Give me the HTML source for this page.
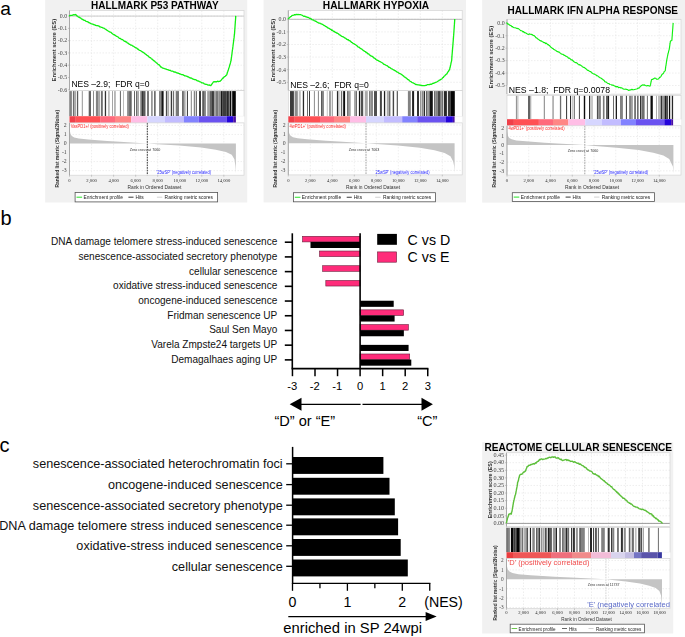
<!DOCTYPE html>
<html><head><meta charset="utf-8"><style>
html,body{margin:0;padding:0;background:#fff;width:685px;height:637px;overflow:hidden}
svg{display:block;font-family:"Liberation Sans", sans-serif}
</style></head><body>
<svg width="685" height="637" viewBox="0 0 685 637">
<defs><filter id="soft" x="0" y="0" width="1" height="1" color-interpolation-filters="sRGB"><feGaussianBlur stdDeviation="0.3"/></filter></defs>
<rect width="685" height="637" fill="#fff"/>
<text x="0.20" y="14.90" font-size="19.2" text-anchor="start" font-weight="normal" fill="#000" >a</text>
<g filter="url(#soft)"><rect x="45.2" y="0" width="202.0" height="202.5" fill="#f1f1f1"/>
<text x="154.80" y="8.80" font-size="10" text-anchor="middle" font-weight="bold" fill="#000" >HALLMARK P53 PATHWAY</text>
<rect x="69.5" y="10.6" width="174.5" height="80.0" fill="#fff"/>
<line x1="91.55" y1="10.6" x2="91.55" y2="90.6" stroke="#e2e2e2" stroke-width="0.6" stroke-dasharray="1.5,1.5"/>
<line x1="113.60" y1="10.6" x2="113.60" y2="90.6" stroke="#e2e2e2" stroke-width="0.6" stroke-dasharray="1.5,1.5"/>
<line x1="135.65" y1="10.6" x2="135.65" y2="90.6" stroke="#e2e2e2" stroke-width="0.6" stroke-dasharray="1.5,1.5"/>
<line x1="157.70" y1="10.6" x2="157.70" y2="90.6" stroke="#e2e2e2" stroke-width="0.6" stroke-dasharray="1.5,1.5"/>
<line x1="179.75" y1="10.6" x2="179.75" y2="90.6" stroke="#e2e2e2" stroke-width="0.6" stroke-dasharray="1.5,1.5"/>
<line x1="201.80" y1="10.6" x2="201.80" y2="90.6" stroke="#e2e2e2" stroke-width="0.6" stroke-dasharray="1.5,1.5"/>
<line x1="223.85" y1="10.6" x2="223.85" y2="90.6" stroke="#e2e2e2" stroke-width="0.6" stroke-dasharray="1.5,1.5"/>
<line x1="69.5" y1="16.10" x2="244" y2="16.10" stroke="#e2e2e2" stroke-width="0.6" stroke-dasharray="1.5,1.5"/>
<text x="67.10" y="17.90" font-size="5.8999999999999995" text-anchor="end" font-weight="normal" fill="#444" font-family="Liberation Serif">0.0</text>
<line x1="68.0" y1="16.10" x2="69.5" y2="16.10" stroke="#999" stroke-width="0.5"/>
<line x1="69.5" y1="28.37" x2="244" y2="28.37" stroke="#e2e2e2" stroke-width="0.6" stroke-dasharray="1.5,1.5"/>
<text x="67.10" y="30.17" font-size="5.8999999999999995" text-anchor="end" font-weight="normal" fill="#444" font-family="Liberation Serif">-0.1</text>
<line x1="68.0" y1="28.37" x2="69.5" y2="28.37" stroke="#999" stroke-width="0.5"/>
<line x1="69.5" y1="40.64" x2="244" y2="40.64" stroke="#e2e2e2" stroke-width="0.6" stroke-dasharray="1.5,1.5"/>
<text x="67.10" y="42.44" font-size="5.8999999999999995" text-anchor="end" font-weight="normal" fill="#444" font-family="Liberation Serif">-0.2</text>
<line x1="68.0" y1="40.64" x2="69.5" y2="40.64" stroke="#999" stroke-width="0.5"/>
<line x1="69.5" y1="52.91" x2="244" y2="52.91" stroke="#e2e2e2" stroke-width="0.6" stroke-dasharray="1.5,1.5"/>
<text x="67.10" y="54.71" font-size="5.8999999999999995" text-anchor="end" font-weight="normal" fill="#444" font-family="Liberation Serif">-0.3</text>
<line x1="68.0" y1="52.91" x2="69.5" y2="52.91" stroke="#999" stroke-width="0.5"/>
<line x1="69.5" y1="65.18" x2="244" y2="65.18" stroke="#e2e2e2" stroke-width="0.6" stroke-dasharray="1.5,1.5"/>
<text x="67.10" y="66.98" font-size="5.8999999999999995" text-anchor="end" font-weight="normal" fill="#444" font-family="Liberation Serif">-0.4</text>
<line x1="68.0" y1="65.18" x2="69.5" y2="65.18" stroke="#999" stroke-width="0.5"/>
<text x="67.10" y="79.25" font-size="5.8999999999999995" text-anchor="end" font-weight="normal" fill="#444" font-family="Liberation Serif">-0.5</text>
<line x1="68.0" y1="77.45" x2="69.5" y2="77.45" stroke="#999" stroke-width="0.5"/>
<line x1="69.5" y1="89.72" x2="244" y2="89.72" stroke="#e2e2e2" stroke-width="0.6" stroke-dasharray="1.5,1.5"/>
<text x="67.10" y="91.52" font-size="5.8999999999999995" text-anchor="end" font-weight="normal" fill="#444" font-family="Liberation Serif">-0.6</text>
<line x1="68.0" y1="89.72" x2="69.5" y2="89.72" stroke="#999" stroke-width="0.5"/>
<line x1="69.5" y1="16.10" x2="244" y2="16.10" stroke="#c4c4c4" stroke-width="0.9"/>
<rect x="69.5" y="10.6" width="174.5" height="80.0" fill="none" stroke="#d4d4d4" stroke-width="0.7"/>
<line x1="69.5" y1="10.6" x2="69.5" y2="90.6" stroke="#999" stroke-width="0.8"/>
<polyline points="68.94,15.72 69.82,15.73 70.69,15.46 71.57,15.42 72.36,15.28 73.15,14.78 73.93,14.59 74.72,14.93 75.51,14.43 76.17,14.94 76.83,15.92 77.48,16.13 78.14,16.87 78.89,17.11 79.64,17.65 80.39,17.81 81.14,18.55 81.89,19.14 82.64,19.38 83.39,19.96 84.14,20.30 84.89,20.31 85.64,21.10 86.40,21.38 87.15,21.58 87.90,21.79 88.65,22.67 89.40,22.73 90.15,23.18 90.90,23.58 91.65,23.78 92.40,24.20 93.15,24.19 93.90,24.73 94.78,24.82 95.65,25.42 96.53,25.70 97.41,25.54 98.28,25.86 99.16,26.22 99.91,26.97 100.66,26.95 101.41,27.37 102.16,27.47 102.91,27.89 103.66,28.12 104.41,28.40 105.16,28.99 105.91,29.44 106.66,30.09 107.42,30.40 108.17,31.00 108.92,31.41 109.67,31.94 110.39,32.23 111.10,32.40 111.82,33.30 112.54,33.84 113.25,34.28 113.97,34.56 114.68,35.12 115.40,35.29 116.12,36.14 116.83,36.47 117.55,36.77 118.24,37.05 118.93,37.94 119.62,38.44 120.32,38.31 121.01,39.15 121.70,39.33 122.39,39.59 123.08,40.09 123.77,40.79 124.47,41.27 125.16,41.19 125.85,41.95 126.54,42.02 127.23,42.84 127.92,43.02 128.62,43.76 129.31,44.24 130.00,44.37 130.69,45.08 131.38,45.08 132.07,45.36 132.76,46.09 133.45,46.16 134.15,46.67 134.84,47.22 135.53,47.75 136.22,47.90 136.91,48.24 137.60,49.15 138.29,49.24 138.98,50.04 139.67,50.42 140.36,50.52 141.06,50.99 141.75,51.44 142.44,51.93 143.13,52.31 143.82,52.71 144.45,53.24 145.07,53.94 145.70,54.18 146.32,54.63 146.95,55.30 147.57,55.52 148.20,56.05 148.83,56.96 149.45,57.19 150.08,57.70 150.70,57.88 151.33,58.62 151.95,59.22 152.58,59.39 153.21,60.25 153.83,60.76 154.46,60.91 155.08,61.75 155.71,62.16 156.33,62.79 156.96,63.09 157.62,63.90 158.27,64.51 158.93,64.67 159.59,65.28 160.24,66.24 160.90,67.01 161.55,67.17 162.21,67.88 163.00,68.23 163.79,68.33 164.58,68.61 165.37,68.85 166.16,69.14 166.94,69.54 167.73,69.62 168.52,69.93 169.31,70.43 170.10,70.25 170.87,70.83 171.64,71.20 172.42,71.20 173.19,71.42 173.96,72.03 174.73,71.95 175.51,72.18 176.28,72.59 177.05,73.02 177.82,72.92 178.60,73.32 179.37,73.59 180.14,74.15 180.91,74.17 181.69,74.69 182.46,74.54 183.23,74.90 184.00,75.40 184.78,75.85 185.55,75.90 186.32,76.07 187.09,76.32 187.87,76.87 188.64,76.98 189.41,77.65 190.19,77.98 190.96,77.90 191.73,78.26 192.51,78.89 193.28,79.10 194.05,79.51 194.82,79.54 195.60,79.72 196.37,80.13 197.16,80.77 197.95,80.80 198.73,81.18 199.52,81.57 200.31,81.91 201.10,82.25 201.89,82.90 202.67,82.78 203.46,83.03 204.25,83.94 205.07,84.13 205.89,84.42 206.71,84.32 207.53,84.86 208.36,85.08 209.18,84.88 210.00,85.43 210.82,85.71 211.35,84.92 211.87,84.15 212.40,83.33 212.92,82.68 213.45,81.93 214.27,81.70 215.09,81.88 215.91,81.57 216.74,81.75 217.56,81.16 218.38,81.54 219.20,81.29 220.02,81.29 220.68,80.62 221.34,79.97 221.99,79.12 222.65,78.13 223.31,78.00 223.96,77.08 224.62,76.59 225.28,76.24 225.93,75.58 226.59,74.95 226.85,74.48 227.11,73.49 227.38,72.54 227.64,71.70 227.90,71.28 228.16,70.26 228.42,69.65 228.69,68.61 228.95,67.73 229.21,67.14 229.44,66.49 229.67,65.28 229.90,64.83 230.13,64.09 230.36,63.20 230.59,62.39 230.82,61.08 231.05,60.63 231.16,59.94 231.27,58.62 231.38,57.92 231.49,57.09 231.61,56.42 231.72,55.52 231.83,54.72 231.94,54.08 232.05,52.78 232.16,51.98 232.27,51.20 232.38,50.36 232.49,49.50 232.60,49.21 232.72,48.31 232.83,47.02 232.94,46.44 233.05,45.50 233.16,44.67 233.26,43.88 233.36,43.25 233.46,42.41 233.56,41.46 233.66,40.55 233.76,39.83 233.87,38.90 233.97,38.35 234.07,37.63 234.17,36.62 234.27,35.63 234.37,34.89 234.47,34.19 234.53,33.53 234.58,32.84 234.64,31.80 234.70,31.25 234.75,30.35 234.81,29.43 234.87,28.60 234.93,27.87 234.98,27.20 235.04,26.23 235.10,25.59 235.15,24.65 235.21,23.72 235.27,23.10 235.32,22.39 235.38,21.22 235.44,20.63 235.50,19.83 235.55,19.31 235.61,18.54 235.67,17.40 235.72,16.92 235.78,15.88" fill="none" stroke="#10f010" stroke-width="1.3" stroke-linejoin="round" />
<rect x="70.1" y="79.10" width="80.60" height="11.10" fill="#fff"/>
<text x="71.40" y="87.30" font-size="9.9" text-anchor="start" font-weight="normal" fill="#000" textLength="78.2" lengthAdjust="spacingAndGlyphs">NES –2.9;&#160; FDR q=0</text>
<text x="0.00" y="0.00" font-size="6.0" text-anchor="middle" font-weight="bold" fill="#333" transform="translate(56.0,50.2) rotate(-90) scale(0.975,1)">Enrichment score (ES)</text>
<rect x="69.5" y="90.6" width="174.5" height="25.60000000000001" fill="#fff" stroke="#c8c8c8" stroke-width="0.5"/>
<rect x="69.30" y="91.1" width="2.60" height="25.10" fill="rgb(130,130,130)"/>
<rect x="72.90" y="91.1" width="1.30" height="25.10" fill="rgb(110,110,110)"/>
<rect x="74.20" y="91.1" width="1.70" height="25.10" fill="rgb(160,160,160)"/>
<rect x="76.90" y="91.1" width="1.30" height="25.10" fill="rgb(90,90,90)"/>
<rect x="81.80" y="91.1" width="1.00" height="25.10" fill="rgb(150,150,150)"/>
<rect x="88.70" y="91.1" width="2.30" height="25.10" fill="rgb(100,100,100)"/>
<rect x="93.00" y="91.1" width="1.00" height="25.10" fill="rgb(140,140,140)"/>
<rect x="95.90" y="91.1" width="2.30" height="25.10" fill="rgb(130,130,130)"/>
<rect x="98.20" y="91.1" width="1.70" height="25.10" fill="rgb(160,160,160)"/>
<rect x="100.90" y="91.1" width="1.90" height="25.10" fill="rgb(110,110,110)"/>
<rect x="104.80" y="91.1" width="1.30" height="25.10" fill="rgb(50,50,50)"/>
<rect x="108.10" y="91.1" width="1.60" height="25.10" fill="rgb(180,180,180)"/>
<rect x="112.00" y="91.1" width="1.00" height="25.10" fill="rgb(165,165,165)"/>
<rect x="114.30" y="91.1" width="1.30" height="25.10" fill="rgb(150,150,150)"/>
<rect x="119.90" y="91.1" width="1.00" height="25.10" fill="rgb(100,100,100)"/>
<rect x="123.20" y="91.1" width="0.70" height="25.10" fill="rgb(160,160,160)"/>
<rect x="127.10" y="91.1" width="2.00" height="25.10" fill="rgb(140,140,140)"/>
<rect x="129.10" y="91.1" width="2.60" height="25.10" fill="rgb(100,100,100)"/>
<rect x="134.00" y="91.1" width="1.00" height="25.10" fill="rgb(100,100,100)"/>
<rect x="136.00" y="91.1" width="1.30" height="25.10" fill="rgb(110,110,110)"/>
<rect x="137.30" y="91.1" width="1.60" height="25.10" fill="rgb(160,160,160)"/>
<rect x="140.30" y="91.1" width="1.60" height="25.10" fill="rgb(120,120,120)"/>
<rect x="141.90" y="91.1" width="1.00" height="25.10" fill="rgb(30,30,30)"/>
<rect x="142.90" y="91.1" width="2.60" height="25.10" fill="rgb(90,90,90)"/>
<rect x="147.20" y="91.1" width="1.60" height="25.10" fill="rgb(90,90,90)"/>
<rect x="151.10" y="91.1" width="1.60" height="25.10" fill="rgb(140,140,140)"/>
<rect x="154.00" y="91.1" width="1.70" height="25.10" fill="rgb(110,110,110)"/>
<rect x="159.00" y="91.1" width="1.60" height="25.10" fill="rgb(130,130,130)"/>
<rect x="160.60" y="91.1" width="1.30" height="25.10" fill="rgb(80,80,80)"/>
<rect x="161.90" y="91.1" width="1.70" height="25.10" fill="rgb(20,20,20)"/>
<rect x="165.90" y="91.1" width="0.90" height="25.10" fill="rgb(30,30,30)"/>
<rect x="167.20" y="91.1" width="1.90" height="25.10" fill="rgb(170,170,170)"/>
<rect x="170.80" y="91.1" width="1.00" height="25.10" fill="rgb(10,10,10)"/>
<rect x="172.80" y="91.1" width="1.30" height="25.10" fill="rgb(110,110,110)"/>
<rect x="175.70" y="91.1" width="3.30" height="25.10" fill="rgb(120,120,120)"/>
<rect x="182.00" y="91.1" width="1.90" height="25.10" fill="rgb(110,110,110)"/>
<rect x="183.90" y="91.1" width="1.70" height="25.10" fill="rgb(170,170,170)"/>
<rect x="186.90" y="91.1" width="1.00" height="25.10" fill="rgb(50,50,50)"/>
<rect x="190.80" y="91.1" width="1.00" height="25.10" fill="rgb(130,130,130)"/>
<rect x="193.80" y="91.1" width="1.00" height="25.10" fill="rgb(100,100,100)"/>
<rect x="195.80" y="91.1" width="0.90" height="25.10" fill="rgb(50,50,50)"/>
<rect x="199.00" y="91.1" width="2.00" height="25.10" fill="rgb(60,60,60)"/>
<rect x="202.30" y="91.1" width="1.60" height="25.10" fill="rgb(70,70,70)"/>
<rect x="203.90" y="91.1" width="2.00" height="25.10" fill="rgb(130,130,130)"/>
<rect x="207.20" y="91.1" width="2.70" height="25.10" fill="rgb(160,160,160)"/>
<rect x="209.90" y="91.1" width="2.30" height="25.10" fill="rgb(100,100,100)"/>
<rect x="212.20" y="91.1" width="1.60" height="25.10" fill="rgb(20,20,20)"/>
<rect x="214.10" y="91.1" width="1.70" height="25.10" fill="rgb(150,150,150)"/>
<rect x="215.80" y="91.1" width="2.70" height="25.10" fill="rgb(120,120,120)"/>
<rect x="218.50" y="91.1" width="2.50" height="25.10" fill="rgb(140,140,140)"/>
<rect x="221.00" y="91.1" width="1.70" height="25.10" fill="rgb(25,25,25)"/>
<rect x="222.70" y="91.1" width="3.60" height="25.10" fill="rgb(60,60,60)"/>
<rect x="226.30" y="91.1" width="2.60" height="25.10" fill="rgb(40,40,40)"/>
<rect x="228.90" y="91.1" width="1.00" height="25.10" fill="rgb(120,120,120)"/>
<rect x="229.90" y="91.1" width="1.30" height="25.10" fill="rgb(10,10,10)"/>
<rect x="231.20" y="91.1" width="1.00" height="25.10" fill="rgb(160,160,160)"/>
<rect x="232.20" y="91.1" width="3.60" height="25.10" fill="rgb(5,5,5)"/>
<rect x="69.5" y="116.2" width="174.5" height="6.700000000000003" fill="#fff"/>
<rect x="69.50" y="116.2" width="6.30" height="6.700000000000003" fill="#f0404a"/>
<rect x="75.80" y="116.2" width="24.30" height="6.700000000000003" fill="#ff5054"/>
<rect x="100.10" y="116.2" width="14.90" height="6.700000000000003" fill="#ff6a7c"/>
<rect x="115.00" y="116.2" width="16.20" height="6.700000000000003" fill="#ff8686"/>
<rect x="131.20" y="116.2" width="16.20" height="6.700000000000003" fill="#ffbee6"/>
<rect x="147.40" y="116.2" width="17.50" height="6.700000000000003" fill="#d6d6ff"/>
<rect x="164.90" y="116.2" width="18.90" height="6.700000000000003" fill="#c2bcff"/>
<rect x="183.80" y="116.2" width="14.90" height="6.700000000000003" fill="#8282ff"/>
<rect x="198.70" y="116.2" width="27.90" height="6.700000000000003" fill="#6a52f0"/>
<rect x="226.60" y="116.2" width="6.60" height="6.700000000000003" fill="#2404da"/>
<rect x="233.20" y="116.2" width="2.70" height="6.700000000000003" fill="#4a10a4"/>
<rect x="69.5" y="122.9" width="174.5" height="52.29999999999998" fill="#fff"/>
<line x1="91.55" y1="122.9" x2="91.55" y2="175.2" stroke="#e2e2e2" stroke-width="0.6" stroke-dasharray="1.5,1.5"/>
<line x1="113.60" y1="122.9" x2="113.60" y2="175.2" stroke="#e2e2e2" stroke-width="0.6" stroke-dasharray="1.5,1.5"/>
<line x1="135.65" y1="122.9" x2="135.65" y2="175.2" stroke="#e2e2e2" stroke-width="0.6" stroke-dasharray="1.5,1.5"/>
<line x1="157.70" y1="122.9" x2="157.70" y2="175.2" stroke="#e2e2e2" stroke-width="0.6" stroke-dasharray="1.5,1.5"/>
<line x1="179.75" y1="122.9" x2="179.75" y2="175.2" stroke="#e2e2e2" stroke-width="0.6" stroke-dasharray="1.5,1.5"/>
<line x1="201.80" y1="122.9" x2="201.80" y2="175.2" stroke="#e2e2e2" stroke-width="0.6" stroke-dasharray="1.5,1.5"/>
<line x1="223.85" y1="122.9" x2="223.85" y2="175.2" stroke="#e2e2e2" stroke-width="0.6" stroke-dasharray="1.5,1.5"/>
<line x1="69.5" y1="125.40" x2="244" y2="125.40" stroke="#e2e2e2" stroke-width="0.6" stroke-dasharray="1.5,1.5"/>
<text x="66.70" y="127.20" font-size="5.75" text-anchor="end" font-weight="normal" fill="#444" font-family="Liberation Serif">2</text>
<line x1="69.5" y1="134.45" x2="244" y2="134.45" stroke="#e2e2e2" stroke-width="0.6" stroke-dasharray="1.5,1.5"/>
<text x="66.70" y="136.25" font-size="5.75" text-anchor="end" font-weight="normal" fill="#444" font-family="Liberation Serif">1</text>
<text x="66.70" y="145.30" font-size="5.75" text-anchor="end" font-weight="normal" fill="#444" font-family="Liberation Serif">0</text>
<text x="66.70" y="154.35" font-size="5.75" text-anchor="end" font-weight="normal" fill="#444" font-family="Liberation Serif">-1</text>
<line x1="69.5" y1="161.60" x2="244" y2="161.60" stroke="#e2e2e2" stroke-width="0.6" stroke-dasharray="1.5,1.5"/>
<text x="66.70" y="163.40" font-size="5.75" text-anchor="end" font-weight="normal" fill="#444" font-family="Liberation Serif">-2</text>
<line x1="69.5" y1="170.65" x2="244" y2="170.65" stroke="#e2e2e2" stroke-width="0.6" stroke-dasharray="1.5,1.5"/>
<text x="66.70" y="172.45" font-size="5.75" text-anchor="end" font-weight="normal" fill="#444" font-family="Liberation Serif">-3</text>
<path d="M69.5,143.50 L69.50,129.02 L70.50,134.09 L71.83,135.99 L74.16,137.44 L78.82,138.61 L88.31,139.52 L97.79,140.33 L107.11,140.97 L119.92,141.69 L147.30,143.50 L157.37,144.22 L179.16,145.58 L201.13,147.48 L215.77,149.65 L225.92,151.92 L231.74,154.81 L234.40,159.16 L235.40,166.12 L235.90,173.37 L235.90,143.50 Z" fill="#c4c4c4"/>
<line x1="147.30" y1="122.9" x2="147.30" y2="175.2" stroke="#111" stroke-width="0.85" stroke-dasharray="1.7,0.9"/>
<rect x="69.5" y="122.9" width="174.5" height="52.29999999999998" fill="none" stroke="#d4d4d4" stroke-width="0.7"/>
<line x1="69.5" y1="122.9" x2="69.5" y2="175.2" stroke="#999" stroke-width="0.8"/>
<text transform="translate(70.80,127.50) scale(0.847,1)" font-size="4.837999999999999" text-anchor="start" font-weight="normal" fill="#ff2a2a" >VasPD1+/ (positively correlated)</text>
<text transform="translate(145.00,150.80) scale(0.847,1)" font-size="4.366" text-anchor="middle" font-weight="normal" fill="#333" >Zero cross at 7060</text>
<text transform="translate(156.40,173.90) scale(0.847,1)" font-size="4.72" text-anchor="start" font-weight="normal" fill="#2828ff" >&#39;25wSP&#39; (negatively correlated)</text>
<text x="69.50" y="181.70" font-size="4.644" text-anchor="middle" font-weight="normal" fill="#2a2a2a" font-family="Liberation Serif">0</text>
<line x1="69.50" y1="175.2" x2="69.50" y2="176.7" stroke="#999" stroke-width="0.5"/>
<text x="91.55" y="181.70" font-size="4.644" text-anchor="middle" font-weight="normal" fill="#2a2a2a" font-family="Liberation Serif">2,000</text>
<line x1="91.55" y1="175.2" x2="91.55" y2="176.7" stroke="#999" stroke-width="0.5"/>
<text x="113.60" y="181.70" font-size="4.644" text-anchor="middle" font-weight="normal" fill="#2a2a2a" font-family="Liberation Serif">4,000</text>
<line x1="113.60" y1="175.2" x2="113.60" y2="176.7" stroke="#999" stroke-width="0.5"/>
<text x="135.65" y="181.70" font-size="4.644" text-anchor="middle" font-weight="normal" fill="#2a2a2a" font-family="Liberation Serif">6,000</text>
<line x1="135.65" y1="175.2" x2="135.65" y2="176.7" stroke="#999" stroke-width="0.5"/>
<text x="157.70" y="181.70" font-size="4.644" text-anchor="middle" font-weight="normal" fill="#2a2a2a" font-family="Liberation Serif">8,000</text>
<line x1="157.70" y1="175.2" x2="157.70" y2="176.7" stroke="#999" stroke-width="0.5"/>
<text x="179.75" y="181.70" font-size="4.644" text-anchor="middle" font-weight="normal" fill="#2a2a2a" font-family="Liberation Serif">10,000</text>
<line x1="179.75" y1="175.2" x2="179.75" y2="176.7" stroke="#999" stroke-width="0.5"/>
<text x="201.80" y="181.70" font-size="4.644" text-anchor="middle" font-weight="normal" fill="#2a2a2a" font-family="Liberation Serif">12,000</text>
<line x1="201.80" y1="175.2" x2="201.80" y2="176.7" stroke="#999" stroke-width="0.5"/>
<text x="223.85" y="181.70" font-size="4.644" text-anchor="middle" font-weight="normal" fill="#2a2a2a" font-family="Liberation Serif">14,000</text>
<line x1="223.85" y1="175.2" x2="223.85" y2="176.7" stroke="#999" stroke-width="0.5"/>
<text transform="translate(154.40,188.80) scale(0.847,1)" font-size="5.782" text-anchor="middle" font-weight="normal" fill="#333" >Rank in Ordered Dataset</text>
<text x="0.00" y="0.00" font-size="4.9" text-anchor="middle" font-weight="bold" fill="#333" transform="translate(58.6,148.7) rotate(-90)">Ranked list metric (Signal2Noise)</text>
<rect x="75.1" y="192.5" width="142.5" height="9.400000000000006" fill="#fff" stroke="#555" stroke-width="0.8"/>
<line x1="76.5" y1="197.20" x2="82.1" y2="197.20" stroke="#10e010" stroke-width="0.9"/>
<text transform="translate(83.50,199.20) scale(0.847,1)" font-size="5.782" text-anchor="start" font-weight="normal" fill="#222" >Enrichment profile</text>
<line x1="128.4" y1="197.20" x2="133.5" y2="197.20" stroke="#222" stroke-width="0.9"/>
<text transform="translate(135.40,199.20) scale(0.847,1)" font-size="5.782" text-anchor="start" font-weight="normal" fill="#222" >Hits</text>
<line x1="156.9" y1="197.20" x2="162.3" y2="197.20" stroke="#ccc" stroke-width="0.9"/>
<text transform="translate(164.60,199.20) scale(0.847,1)" font-size="5.782" text-anchor="start" font-weight="normal" fill="#222" >Ranking metric scores</text></g>
<g filter="url(#soft)"><rect x="263.6" y="0" width="202.39999999999998" height="202.4" fill="#f1f1f1"/>
<text x="376.00" y="8.80" font-size="10.2" text-anchor="middle" font-weight="bold" fill="#000" >HALLMARK HYPOXIA</text>
<rect x="288.3" y="10.4" width="173.89999999999998" height="80.0" fill="#fff"/>
<line x1="310.30" y1="10.4" x2="310.30" y2="90.4" stroke="#e2e2e2" stroke-width="0.6" stroke-dasharray="1.5,1.5"/>
<line x1="332.30" y1="10.4" x2="332.30" y2="90.4" stroke="#e2e2e2" stroke-width="0.6" stroke-dasharray="1.5,1.5"/>
<line x1="354.30" y1="10.4" x2="354.30" y2="90.4" stroke="#e2e2e2" stroke-width="0.6" stroke-dasharray="1.5,1.5"/>
<line x1="376.30" y1="10.4" x2="376.30" y2="90.4" stroke="#e2e2e2" stroke-width="0.6" stroke-dasharray="1.5,1.5"/>
<line x1="398.30" y1="10.4" x2="398.30" y2="90.4" stroke="#e2e2e2" stroke-width="0.6" stroke-dasharray="1.5,1.5"/>
<line x1="420.30" y1="10.4" x2="420.30" y2="90.4" stroke="#e2e2e2" stroke-width="0.6" stroke-dasharray="1.5,1.5"/>
<line x1="442.30" y1="10.4" x2="442.30" y2="90.4" stroke="#e2e2e2" stroke-width="0.6" stroke-dasharray="1.5,1.5"/>
<line x1="288.3" y1="19.30" x2="462.2" y2="19.30" stroke="#e2e2e2" stroke-width="0.6" stroke-dasharray="1.5,1.5"/>
<text x="285.90" y="21.10" font-size="5.8999999999999995" text-anchor="end" font-weight="normal" fill="#444" font-family="Liberation Serif">0.0</text>
<line x1="286.8" y1="19.30" x2="288.3" y2="19.30" stroke="#999" stroke-width="0.5"/>
<line x1="288.3" y1="31.90" x2="462.2" y2="31.90" stroke="#e2e2e2" stroke-width="0.6" stroke-dasharray="1.5,1.5"/>
<text x="285.90" y="33.70" font-size="5.8999999999999995" text-anchor="end" font-weight="normal" fill="#444" font-family="Liberation Serif">-0.1</text>
<line x1="286.8" y1="31.90" x2="288.3" y2="31.90" stroke="#999" stroke-width="0.5"/>
<line x1="288.3" y1="44.50" x2="462.2" y2="44.50" stroke="#e2e2e2" stroke-width="0.6" stroke-dasharray="1.5,1.5"/>
<text x="285.90" y="46.30" font-size="5.8999999999999995" text-anchor="end" font-weight="normal" fill="#444" font-family="Liberation Serif">-0.2</text>
<line x1="286.8" y1="44.50" x2="288.3" y2="44.50" stroke="#999" stroke-width="0.5"/>
<line x1="288.3" y1="57.10" x2="462.2" y2="57.10" stroke="#e2e2e2" stroke-width="0.6" stroke-dasharray="1.5,1.5"/>
<text x="285.90" y="58.90" font-size="5.8999999999999995" text-anchor="end" font-weight="normal" fill="#444" font-family="Liberation Serif">-0.3</text>
<line x1="286.8" y1="57.10" x2="288.3" y2="57.10" stroke="#999" stroke-width="0.5"/>
<line x1="288.3" y1="69.70" x2="462.2" y2="69.70" stroke="#e2e2e2" stroke-width="0.6" stroke-dasharray="1.5,1.5"/>
<text x="285.90" y="71.50" font-size="5.8999999999999995" text-anchor="end" font-weight="normal" fill="#444" font-family="Liberation Serif">-0.4</text>
<line x1="286.8" y1="69.70" x2="288.3" y2="69.70" stroke="#999" stroke-width="0.5"/>
<line x1="288.3" y1="82.30" x2="462.2" y2="82.30" stroke="#e2e2e2" stroke-width="0.6" stroke-dasharray="1.5,1.5"/>
<text x="285.90" y="84.10" font-size="5.8999999999999995" text-anchor="end" font-weight="normal" fill="#444" font-family="Liberation Serif">-0.5</text>
<line x1="286.8" y1="82.30" x2="288.3" y2="82.30" stroke="#999" stroke-width="0.5"/>
<line x1="288.3" y1="19.30" x2="462.2" y2="19.30" stroke="#b0b0b0" stroke-width="0.9"/>
<rect x="288.3" y="10.4" width="173.89999999999998" height="80.0" fill="none" stroke="#d4d4d4" stroke-width="0.7"/>
<line x1="288.3" y1="10.4" x2="288.3" y2="90.4" stroke="#999" stroke-width="0.8"/>
<polyline points="287.94,19.11 288.60,18.53 289.25,17.90 289.91,17.33 290.57,16.55 291.36,16.30 292.15,15.39 292.93,15.29 293.72,15.20 294.51,14.66 295.38,14.81 296.26,14.34 297.13,14.55 298.01,14.42 298.88,14.60 299.76,14.61 300.64,14.58 301.51,15.01 302.39,15.36 303.27,16.05 304.14,16.26 305.02,16.21 305.77,16.89 306.52,16.79 307.27,17.38 308.02,17.39 308.77,17.61 309.52,18.43 310.27,18.34 311.02,18.72 311.77,19.55 312.52,19.86 313.28,19.89 314.03,20.67 314.78,20.79 315.53,21.25 316.25,21.32 316.96,22.12 317.68,22.33 318.40,22.85 319.11,23.17 319.83,23.17 320.54,23.56 321.26,23.81 321.98,24.15 322.69,24.46 323.41,24.96 324.10,25.56 324.79,25.61 325.48,26.43 326.18,26.64 326.87,27.04 327.56,27.76 328.25,27.97 328.94,28.29 329.63,28.80 330.33,29.35 331.02,29.38 331.71,30.34 332.40,30.19 333.09,31.04 333.78,31.51 334.48,31.43 335.17,32.30 335.86,32.46 336.55,33.01 337.24,33.08 337.93,33.52 338.62,34.01 339.32,34.89 340.01,34.85 340.70,35.60 341.39,36.12 342.08,36.54 342.77,36.60 343.47,37.02 344.16,37.54 344.85,38.10 345.54,38.12 346.23,38.92 346.92,39.36 347.62,39.81 348.31,39.73 349.00,40.69 349.69,40.59 350.35,41.20 351.00,41.83 351.66,42.47 352.32,42.58 352.97,43.39 353.63,43.63 354.29,43.95 354.94,44.41 355.60,44.79 356.25,45.19 356.91,45.69 357.57,46.47 358.22,47.12 358.88,47.08 359.54,47.47 360.19,48.49 360.85,48.68 361.51,49.06 362.16,49.42 362.82,50.10 363.48,50.70 364.13,50.93 364.79,51.37 365.45,51.61 366.11,52.59 366.76,52.52 367.42,53.25 368.08,53.92 368.73,53.95 369.39,54.77 370.05,55.36 370.70,55.63 371.36,56.19 372.02,56.24 372.67,56.89 373.33,57.18 373.99,58.06 374.65,58.19 375.30,58.74 375.96,59.53 376.65,59.86 377.34,60.35 378.03,60.45 378.73,60.88 379.42,61.44 380.11,61.71 380.80,62.01 381.49,62.49 382.18,62.76 382.88,63.31 383.57,64.09 384.26,64.49 384.95,64.70 385.64,65.04 386.33,65.36 387.03,65.63 387.72,66.15 388.41,66.87 389.10,67.34 389.79,67.45 390.48,68.12 391.17,68.53 391.86,68.90 392.56,69.29 393.25,69.76 393.94,69.94 394.63,70.56 395.32,70.72 396.01,71.26 396.70,71.84 397.39,72.21 398.08,72.39 398.77,73.19 399.47,73.43 400.16,73.80 400.85,73.88 401.54,74.61 402.23,74.85 402.89,75.61 403.55,75.98 404.20,76.70 404.86,77.10 405.52,77.70 406.18,77.93 406.83,78.61 407.49,79.17 408.15,79.73 408.81,79.94 409.46,80.74 410.12,81.26 410.87,81.60 411.62,82.23 412.37,82.67 413.12,82.86 413.87,83.31 414.62,83.55 415.37,84.40 416.16,84.62 416.95,84.50 417.73,84.79 418.52,84.96 419.31,85.12 420.10,84.95 420.89,85.47 421.67,85.50 422.46,85.71 423.25,85.72 424.04,85.69 424.83,85.62 425.62,85.38 426.41,85.27 427.19,84.70 427.98,84.62 428.77,84.64 429.56,84.60 430.35,84.19 431.14,84.31 432.01,83.97 432.89,83.31 433.76,83.26 434.64,82.81 435.51,82.40 436.39,82.14 437.14,81.76 437.89,81.19 438.64,80.71 439.40,80.13 440.15,79.90 440.90,79.36 441.65,79.01 442.23,78.41 442.82,77.62 443.40,77.43 443.98,76.31 444.57,75.97 445.15,75.31 445.73,74.80 446.32,74.04 446.90,73.89 447.43,72.82 447.95,71.83 448.48,71.39 449.00,70.29 449.53,69.77 449.72,68.81 449.91,68.12 450.10,67.51 450.29,66.59 450.48,65.51 450.68,64.92 450.87,63.98 451.06,62.98 451.25,62.01 451.44,61.44 451.63,60.59 451.70,60.00 451.76,59.19 451.83,58.15 451.89,57.18 451.96,56.68 452.02,55.32 452.09,54.57 452.15,54.02 452.22,53.23 452.29,52.12 452.35,51.59 452.42,50.93 452.48,49.80 452.55,49.01 452.61,48.07 452.68,47.28 452.75,46.87 452.81,45.70 452.88,45.22 452.94,44.37 453.01,43.36 453.07,42.34 453.14,41.95 453.21,40.84 453.27,39.97 453.34,39.09 453.40,38.67 453.47,37.55 453.53,36.61 453.60,35.90 453.66,34.86 453.73,34.34 453.79,33.43 453.84,32.54 453.90,32.03 453.95,31.26 454.01,29.97 454.06,29.48 454.12,28.52 454.17,28.12 454.23,27.22 454.28,26.10 454.34,25.31 454.39,24.44 454.45,24.14 454.50,22.92 454.56,22.31 454.61,21.43 454.67,20.73 454.72,19.90 454.78,19.04" fill="none" stroke="#10f010" stroke-width="1.3" stroke-linejoin="round" />
<rect x="288.90000000000003" y="79.30" width="81.00" height="10.70" fill="#fff"/>
<text x="290.20" y="87.50" font-size="9.9" text-anchor="start" font-weight="normal" fill="#000" textLength="78.6" lengthAdjust="spacingAndGlyphs">NES –2.6;&#160; FDR q=0</text>
<text x="0.00" y="0.00" font-size="6.0" text-anchor="middle" font-weight="bold" fill="#333" transform="translate(274.8,50.2) rotate(-90) scale(0.975,1)">Enrichment score (ES)</text>
<rect x="288.3" y="90.6" width="173.89999999999998" height="25.700000000000003" fill="#fff" stroke="#c8c8c8" stroke-width="0.5"/>
<rect x="290.00" y="91.1" width="3.90" height="25.20" fill="rgb(60,60,60)"/>
<rect x="294.60" y="91.1" width="3.20" height="25.20" fill="rgb(140,140,140)"/>
<rect x="298.80" y="91.1" width="2.00" height="25.20" fill="rgb(190,190,190)"/>
<rect x="302.80" y="91.1" width="1.30" height="25.20" fill="rgb(40,40,40)"/>
<rect x="307.00" y="91.1" width="1.00" height="25.20" fill="rgb(110,110,110)"/>
<rect x="309.00" y="91.1" width="1.00" height="25.20" fill="rgb(60,60,60)"/>
<rect x="313.90" y="91.1" width="1.00" height="25.20" fill="rgb(140,140,140)"/>
<rect x="317.90" y="91.1" width="1.00" height="25.20" fill="rgb(130,130,130)"/>
<rect x="321.20" y="91.1" width="1.30" height="25.20" fill="rgb(50,50,50)"/>
<rect x="322.50" y="91.1" width="1.30" height="25.20" fill="rgb(110,110,110)"/>
<rect x="326.80" y="91.1" width="0.90" height="25.20" fill="rgb(190,190,190)"/>
<rect x="329.00" y="91.1" width="2.00" height="25.20" fill="rgb(160,160,160)"/>
<rect x="331.70" y="91.1" width="1.30" height="25.20" fill="rgb(170,170,170)"/>
<rect x="336.90" y="91.1" width="1.30" height="25.20" fill="rgb(40,40,40)"/>
<rect x="338.20" y="91.1" width="1.30" height="25.20" fill="rgb(180,180,180)"/>
<rect x="340.90" y="91.1" width="1.30" height="25.20" fill="rgb(110,110,110)"/>
<rect x="343.20" y="91.1" width="1.90" height="25.20" fill="rgb(10,10,10)"/>
<rect x="347.10" y="91.1" width="1.60" height="25.20" fill="rgb(100,100,100)"/>
<rect x="348.70" y="91.1" width="2.00" height="25.20" fill="rgb(160,160,160)"/>
<rect x="354.00" y="91.1" width="1.60" height="25.20" fill="rgb(170,170,170)"/>
<rect x="355.60" y="91.1" width="1.40" height="25.20" fill="rgb(110,110,110)"/>
<rect x="358.90" y="91.1" width="1.30" height="25.20" fill="rgb(20,20,20)"/>
<rect x="360.90" y="91.1" width="2.30" height="25.20" fill="rgb(80,80,80)"/>
<rect x="364.80" y="91.1" width="3.00" height="25.20" fill="rgb(170,170,170)"/>
<rect x="369.10" y="91.1" width="1.30" height="25.20" fill="rgb(110,110,110)"/>
<rect x="370.40" y="91.1" width="2.60" height="25.20" fill="rgb(140,140,140)"/>
<rect x="374.00" y="91.1" width="3.00" height="25.20" fill="rgb(80,80,80)"/>
<rect x="379.90" y="91.1" width="2.00" height="25.20" fill="rgb(70,70,70)"/>
<rect x="383.90" y="91.1" width="1.30" height="25.20" fill="rgb(30,30,30)"/>
<rect x="386.80" y="91.1" width="1.30" height="25.20" fill="rgb(170,170,170)"/>
<rect x="388.50" y="91.1" width="1.90" height="25.20" fill="rgb(110,110,110)"/>
<rect x="392.70" y="91.1" width="1.40" height="25.20" fill="rgb(70,70,70)"/>
<rect x="396.70" y="91.1" width="1.30" height="25.20" fill="rgb(100,100,100)"/>
<rect x="407.90" y="91.1" width="2.90" height="25.20" fill="rgb(130,130,130)"/>
<rect x="412.10" y="91.1" width="2.00" height="25.20" fill="rgb(30,30,30)"/>
<rect x="417.00" y="91.1" width="2.00" height="25.20" fill="rgb(50,50,50)"/>
<rect x="420.00" y="91.1" width="1.00" height="25.20" fill="rgb(150,150,150)"/>
<rect x="421.60" y="91.1" width="1.30" height="25.20" fill="rgb(120,120,120)"/>
<rect x="422.90" y="91.1" width="1.00" height="25.20" fill="rgb(170,170,170)"/>
<rect x="423.90" y="91.1" width="1.00" height="25.20" fill="rgb(20,20,20)"/>
<rect x="425.90" y="91.1" width="1.30" height="25.20" fill="rgb(100,100,100)"/>
<rect x="427.20" y="91.1" width="1.30" height="25.20" fill="rgb(140,140,140)"/>
<rect x="428.50" y="91.1" width="1.30" height="25.20" fill="rgb(110,110,110)"/>
<rect x="429.80" y="91.1" width="3.00" height="25.20" fill="rgb(20,20,20)"/>
<rect x="434.10" y="91.1" width="1.30" height="25.20" fill="rgb(90,90,90)"/>
<rect x="435.40" y="91.1" width="2.30" height="25.20" fill="rgb(130,130,130)"/>
<rect x="437.70" y="91.1" width="2.30" height="25.20" fill="rgb(70,70,70)"/>
<rect x="440.00" y="91.1" width="1.70" height="25.20" fill="rgb(130,130,130)"/>
<rect x="441.70" y="91.1" width="1.60" height="25.20" fill="rgb(110,110,110)"/>
<rect x="444.00" y="91.1" width="2.90" height="25.20" fill="rgb(40,40,40)"/>
<rect x="447.90" y="91.1" width="3.00" height="25.20" fill="rgb(60,60,60)"/>
<rect x="450.90" y="91.1" width="3.90" height="25.20" fill="rgb(5,5,5)"/>
<rect x="288.3" y="116.3" width="173.89999999999998" height="6.6000000000000085" fill="#fff"/>
<rect x="288.30" y="116.3" width="6.50" height="6.6000000000000085" fill="#f0404a"/>
<rect x="294.80" y="116.3" width="25.20" height="6.6000000000000085" fill="#ff5054"/>
<rect x="320.00" y="116.3" width="14.00" height="6.6000000000000085" fill="#ff6a7c"/>
<rect x="334.00" y="116.3" width="16.00" height="6.6000000000000085" fill="#ff8686"/>
<rect x="350.00" y="116.3" width="16.00" height="6.6000000000000085" fill="#ffbee6"/>
<rect x="366.00" y="116.3" width="17.90" height="6.6000000000000085" fill="#d6d6ff"/>
<rect x="383.90" y="116.3" width="18.30" height="6.6000000000000085" fill="#c2bcff"/>
<rect x="402.20" y="116.3" width="15.00" height="6.6000000000000085" fill="#8282ff"/>
<rect x="417.20" y="116.3" width="28.80" height="6.6000000000000085" fill="#6a52f0"/>
<rect x="446.00" y="116.3" width="6.90" height="6.6000000000000085" fill="#2404da"/>
<rect x="452.90" y="116.3" width="1.70" height="6.6000000000000085" fill="#4a10a4"/>
<rect x="288.3" y="122.9" width="173.89999999999998" height="52.0" fill="#fff"/>
<line x1="310.30" y1="122.9" x2="310.30" y2="174.9" stroke="#e2e2e2" stroke-width="0.6" stroke-dasharray="1.5,1.5"/>
<line x1="332.30" y1="122.9" x2="332.30" y2="174.9" stroke="#e2e2e2" stroke-width="0.6" stroke-dasharray="1.5,1.5"/>
<line x1="354.30" y1="122.9" x2="354.30" y2="174.9" stroke="#e2e2e2" stroke-width="0.6" stroke-dasharray="1.5,1.5"/>
<line x1="376.30" y1="122.9" x2="376.30" y2="174.9" stroke="#e2e2e2" stroke-width="0.6" stroke-dasharray="1.5,1.5"/>
<line x1="398.30" y1="122.9" x2="398.30" y2="174.9" stroke="#e2e2e2" stroke-width="0.6" stroke-dasharray="1.5,1.5"/>
<line x1="420.30" y1="122.9" x2="420.30" y2="174.9" stroke="#e2e2e2" stroke-width="0.6" stroke-dasharray="1.5,1.5"/>
<line x1="442.30" y1="122.9" x2="442.30" y2="174.9" stroke="#e2e2e2" stroke-width="0.6" stroke-dasharray="1.5,1.5"/>
<line x1="288.3" y1="125.08" x2="462.2" y2="125.08" stroke="#e2e2e2" stroke-width="0.6" stroke-dasharray="1.5,1.5"/>
<text x="285.50" y="126.88" font-size="5.75" text-anchor="end" font-weight="normal" fill="#444" font-family="Liberation Serif">2</text>
<line x1="288.3" y1="134.14" x2="462.2" y2="134.14" stroke="#e2e2e2" stroke-width="0.6" stroke-dasharray="1.5,1.5"/>
<text x="285.50" y="135.94" font-size="5.75" text-anchor="end" font-weight="normal" fill="#444" font-family="Liberation Serif">1</text>
<text x="285.50" y="145.00" font-size="5.75" text-anchor="end" font-weight="normal" fill="#444" font-family="Liberation Serif">0</text>
<text x="285.50" y="154.06" font-size="5.75" text-anchor="end" font-weight="normal" fill="#444" font-family="Liberation Serif">-1</text>
<line x1="288.3" y1="161.32" x2="462.2" y2="161.32" stroke="#e2e2e2" stroke-width="0.6" stroke-dasharray="1.5,1.5"/>
<text x="285.50" y="163.12" font-size="5.75" text-anchor="end" font-weight="normal" fill="#444" font-family="Liberation Serif">-2</text>
<line x1="288.3" y1="170.38" x2="462.2" y2="170.38" stroke="#e2e2e2" stroke-width="0.6" stroke-dasharray="1.5,1.5"/>
<text x="285.50" y="172.18" font-size="5.75" text-anchor="end" font-weight="normal" fill="#444" font-family="Liberation Serif">-3</text>
<path d="M288.3,143.20 L288.30,128.70 L289.30,133.78 L290.63,135.68 L292.95,137.13 L297.61,138.31 L307.08,139.21 L316.55,140.03 L325.86,140.66 L338.66,141.39 L366.00,143.20 L376.07,144.03 L397.86,145.60 L419.83,147.78 L434.47,150.28 L444.62,152.89 L450.44,156.22 L453.10,161.22 L454.10,165.85 L454.60,173.10 L454.60,143.20 Z" fill="#c4c4c4"/>
<line x1="366.00" y1="122.9" x2="366.00" y2="174.9" stroke="#666" stroke-width="0.6" stroke-dasharray="1.7,0.9"/>
<rect x="288.3" y="122.9" width="173.89999999999998" height="52.0" fill="none" stroke="#d4d4d4" stroke-width="0.7"/>
<line x1="288.3" y1="122.9" x2="288.3" y2="174.9" stroke="#999" stroke-width="0.8"/>
<text transform="translate(289.60,127.70) scale(0.847,1)" font-size="4.837999999999999" text-anchor="start" font-weight="normal" fill="#ff2a2a" >4wPD1+&#39; (positively correlated)</text>
<text transform="translate(364.00,150.90) scale(0.847,1)" font-size="4.366" text-anchor="middle" font-weight="normal" fill="#333" >Zero cross at 7063</text>
<text transform="translate(375.60,173.50) scale(0.847,1)" font-size="4.72" text-anchor="start" font-weight="normal" fill="#2828ff" >25wSP&#39; (negatively correlated)</text>
<text x="288.30" y="181.60" font-size="4.644" text-anchor="middle" font-weight="normal" fill="#2a2a2a" font-family="Liberation Serif">0</text>
<line x1="288.30" y1="174.9" x2="288.30" y2="176.4" stroke="#999" stroke-width="0.5"/>
<text x="310.30" y="181.60" font-size="4.644" text-anchor="middle" font-weight="normal" fill="#2a2a2a" font-family="Liberation Serif">2,000</text>
<line x1="310.30" y1="174.9" x2="310.30" y2="176.4" stroke="#999" stroke-width="0.5"/>
<text x="332.30" y="181.60" font-size="4.644" text-anchor="middle" font-weight="normal" fill="#2a2a2a" font-family="Liberation Serif">4,000</text>
<line x1="332.30" y1="174.9" x2="332.30" y2="176.4" stroke="#999" stroke-width="0.5"/>
<text x="354.30" y="181.60" font-size="4.644" text-anchor="middle" font-weight="normal" fill="#2a2a2a" font-family="Liberation Serif">6,000</text>
<line x1="354.30" y1="174.9" x2="354.30" y2="176.4" stroke="#999" stroke-width="0.5"/>
<text x="376.30" y="181.60" font-size="4.644" text-anchor="middle" font-weight="normal" fill="#2a2a2a" font-family="Liberation Serif">8,000</text>
<line x1="376.30" y1="174.9" x2="376.30" y2="176.4" stroke="#999" stroke-width="0.5"/>
<text x="398.30" y="181.60" font-size="4.644" text-anchor="middle" font-weight="normal" fill="#2a2a2a" font-family="Liberation Serif">10,000</text>
<line x1="398.30" y1="174.9" x2="398.30" y2="176.4" stroke="#999" stroke-width="0.5"/>
<text x="420.30" y="181.60" font-size="4.644" text-anchor="middle" font-weight="normal" fill="#2a2a2a" font-family="Liberation Serif">12,000</text>
<line x1="420.30" y1="174.9" x2="420.30" y2="176.4" stroke="#999" stroke-width="0.5"/>
<text x="442.30" y="181.60" font-size="4.644" text-anchor="middle" font-weight="normal" fill="#2a2a2a" font-family="Liberation Serif">14,000</text>
<line x1="442.30" y1="174.9" x2="442.30" y2="176.4" stroke="#999" stroke-width="0.5"/>
<text transform="translate(373.00,188.60) scale(0.847,1)" font-size="5.782" text-anchor="middle" font-weight="normal" fill="#333" >Rank in Ordered Dataset</text>
<text x="0.00" y="0.00" font-size="4.9" text-anchor="middle" font-weight="bold" fill="#333" transform="translate(277.4,148.7) rotate(-90)">Ranked list metric (Signal2Noise)</text>
<rect x="293.4" y="192.7" width="142.10000000000002" height="9.100000000000023" fill="#fff" stroke="#555" stroke-width="0.8"/>
<line x1="294.8" y1="197.25" x2="300.4" y2="197.25" stroke="#10e010" stroke-width="0.9"/>
<text transform="translate(301.80,199.25) scale(0.847,1)" font-size="5.782" text-anchor="start" font-weight="normal" fill="#222" >Enrichment profile</text>
<line x1="346.7" y1="197.25" x2="351.8" y2="197.25" stroke="#222" stroke-width="0.9"/>
<text transform="translate(353.70,199.25) scale(0.847,1)" font-size="5.782" text-anchor="start" font-weight="normal" fill="#222" >Hits</text>
<line x1="375.2" y1="197.25" x2="380.6" y2="197.25" stroke="#ccc" stroke-width="0.9"/>
<text transform="translate(382.90,199.25) scale(0.847,1)" font-size="5.782" text-anchor="start" font-weight="normal" fill="#222" >Ranking metric scores</text></g>
<g filter="url(#soft)"><rect x="482.2" y="0" width="202.8" height="202.6" fill="#f1f1f1"/>
<text x="507.60" y="13.80" font-size="10" text-anchor="start" font-weight="bold" fill="#000" >HALLMARK IFN ALPHA RESPONSE</text>
<rect x="507.0" y="19.3" width="174.0" height="74.8" fill="#fff"/>
<line x1="528.75" y1="19.3" x2="528.75" y2="94.1" stroke="#e2e2e2" stroke-width="0.6" stroke-dasharray="1.5,1.5"/>
<line x1="550.50" y1="19.3" x2="550.50" y2="94.1" stroke="#e2e2e2" stroke-width="0.6" stroke-dasharray="1.5,1.5"/>
<line x1="572.25" y1="19.3" x2="572.25" y2="94.1" stroke="#e2e2e2" stroke-width="0.6" stroke-dasharray="1.5,1.5"/>
<line x1="594.00" y1="19.3" x2="594.00" y2="94.1" stroke="#e2e2e2" stroke-width="0.6" stroke-dasharray="1.5,1.5"/>
<line x1="615.75" y1="19.3" x2="615.75" y2="94.1" stroke="#e2e2e2" stroke-width="0.6" stroke-dasharray="1.5,1.5"/>
<line x1="637.50" y1="19.3" x2="637.50" y2="94.1" stroke="#e2e2e2" stroke-width="0.6" stroke-dasharray="1.5,1.5"/>
<line x1="659.25" y1="19.3" x2="659.25" y2="94.1" stroke="#e2e2e2" stroke-width="0.6" stroke-dasharray="1.5,1.5"/>
<line x1="507.0" y1="23.30" x2="681.0" y2="23.30" stroke="#e2e2e2" stroke-width="0.6" stroke-dasharray="1.5,1.5"/>
<text x="504.60" y="25.10" font-size="5.8999999999999995" text-anchor="end" font-weight="normal" fill="#444" font-family="Liberation Serif">0.0</text>
<line x1="505.5" y1="23.30" x2="507.0" y2="23.30" stroke="#999" stroke-width="0.5"/>
<line x1="507.0" y1="35.74" x2="681.0" y2="35.74" stroke="#e2e2e2" stroke-width="0.6" stroke-dasharray="1.5,1.5"/>
<text x="504.60" y="37.54" font-size="5.8999999999999995" text-anchor="end" font-weight="normal" fill="#444" font-family="Liberation Serif">-0.1</text>
<line x1="505.5" y1="35.74" x2="507.0" y2="35.74" stroke="#999" stroke-width="0.5"/>
<line x1="507.0" y1="48.18" x2="681.0" y2="48.18" stroke="#e2e2e2" stroke-width="0.6" stroke-dasharray="1.5,1.5"/>
<text x="504.60" y="49.98" font-size="5.8999999999999995" text-anchor="end" font-weight="normal" fill="#444" font-family="Liberation Serif">-0.2</text>
<line x1="505.5" y1="48.18" x2="507.0" y2="48.18" stroke="#999" stroke-width="0.5"/>
<line x1="507.0" y1="60.62" x2="681.0" y2="60.62" stroke="#e2e2e2" stroke-width="0.6" stroke-dasharray="1.5,1.5"/>
<text x="504.60" y="62.42" font-size="5.8999999999999995" text-anchor="end" font-weight="normal" fill="#444" font-family="Liberation Serif">-0.3</text>
<line x1="505.5" y1="60.62" x2="507.0" y2="60.62" stroke="#999" stroke-width="0.5"/>
<line x1="507.0" y1="73.06" x2="681.0" y2="73.06" stroke="#e2e2e2" stroke-width="0.6" stroke-dasharray="1.5,1.5"/>
<text x="504.60" y="74.86" font-size="5.8999999999999995" text-anchor="end" font-weight="normal" fill="#444" font-family="Liberation Serif">-0.4</text>
<line x1="505.5" y1="73.06" x2="507.0" y2="73.06" stroke="#999" stroke-width="0.5"/>
<line x1="507.0" y1="85.50" x2="681.0" y2="85.50" stroke="#e2e2e2" stroke-width="0.6" stroke-dasharray="1.5,1.5"/>
<text x="504.60" y="87.30" font-size="5.8999999999999995" text-anchor="end" font-weight="normal" fill="#444" font-family="Liberation Serif">-0.5</text>
<line x1="505.5" y1="85.50" x2="507.0" y2="85.50" stroke="#999" stroke-width="0.5"/>
<rect x="507.0" y="19.3" width="174.0" height="74.8" fill="none" stroke="#d4d4d4" stroke-width="0.7"/>
<line x1="507.0" y1="19.3" x2="507.0" y2="94.1" stroke="#999" stroke-width="0.8"/>
<polyline points="506.31,22.72 507.10,23.09 507.89,24.07 508.67,24.07 509.46,25.02 510.25,25.39 511.04,25.64 511.83,26.57 512.62,26.67 513.41,27.55 514.20,27.75 515.07,27.77 515.95,28.07 516.82,28.43 518.14,28.59 519.01,29.12 519.89,29.92 520.76,30.64 521.49,30.75 522.22,31.02 522.95,31.98 523.68,31.58 524.41,32.75 525.14,32.68 525.87,32.98 526.60,33.40 527.33,34.01 528.32,34.46 529.30,33.89 530.28,34.25 531.27,34.31 532.59,34.86 533.25,35.51 533.90,35.57 534.56,36.07 535.22,36.70 535.88,37.63 536.53,37.90 537.19,38.30 537.85,39.04 538.50,39.42 539.16,39.78 539.88,40.58 540.59,40.86 541.31,40.80 542.03,41.46 542.74,41.77 543.46,42.45 544.17,42.67 544.89,42.63 545.61,43.62 546.32,43.20 547.04,43.83 547.70,44.66 548.35,44.64 549.01,45.47 549.67,45.59 550.33,46.68 550.98,47.29 551.64,47.65 552.30,48.45 552.95,48.47 553.61,49.34 554.32,49.65 555.02,50.04 555.73,50.33 556.44,51.08 557.14,51.58 557.85,51.56 558.56,52.13 559.27,52.00 559.97,52.98 560.68,53.33 561.39,54.05 562.09,54.30 562.80,54.22 563.50,54.75 564.20,55.44 564.90,55.29 565.60,56.13 566.30,56.30 567.00,56.69 567.70,57.08 568.41,58.16 569.11,58.02 569.81,58.56 570.51,59.13 571.21,60.00 571.91,59.73 572.61,60.50 573.31,61.02 574.01,61.76 574.71,62.14 575.41,62.62 576.11,62.53 576.81,63.09 577.51,63.48 578.21,64.39 578.92,64.90 579.62,64.61 580.32,65.07 581.02,65.56 581.72,66.00 582.42,66.66 583.12,67.19 583.82,67.34 584.52,67.54 585.22,68.35 585.92,68.75 586.62,69.36 587.32,70.15 588.02,70.35 588.72,70.63 589.43,71.16 590.13,71.65 590.83,71.53 591.53,72.73 592.23,73.06 592.93,73.58 593.63,73.95 594.33,74.02 595.05,74.51 595.76,74.72 596.48,75.67 597.20,75.64 597.91,76.12 598.63,76.72 599.34,77.16 600.06,77.79 600.78,78.01 601.49,78.44 602.21,79.06 602.87,79.50 603.53,80.23 604.18,80.42 604.84,81.68 605.50,81.94 606.15,82.01 606.81,82.59 607.47,83.17 608.26,83.50 609.05,83.60 609.83,84.57 610.62,85.02 611.41,84.86 612.20,85.19 612.99,85.15 613.77,85.48 614.56,86.01 615.35,86.26 616.14,86.98 616.93,86.59 617.71,86.67 618.50,87.72 619.29,87.55 620.08,87.41 620.87,87.98 621.65,87.72 622.44,88.39 623.23,89.00 624.11,89.16 624.98,89.27 625.86,89.14 626.74,89.50 627.61,89.58 628.49,90.38 629.37,90.04 630.24,90.13 631.12,89.60 631.99,89.37 632.87,89.77 633.74,89.80 634.62,89.46 635.49,89.20 636.37,88.99 637.25,88.70 638.12,88.01 639.00,88.06 639.66,87.34 640.31,86.48 640.97,85.91 641.63,85.57 642.28,84.98 642.94,84.80 643.73,85.20 644.52,84.90 645.30,85.50 646.09,85.70 646.88,85.83 647.67,85.56 648.45,85.69 649.24,85.96 650.03,86.20 650.21,85.42 650.38,85.00 650.56,84.46 650.73,83.62 650.91,82.51 651.08,81.87 651.26,81.22 651.43,79.79 651.61,79.51 652.40,79.41 653.18,78.97 653.97,78.61 654.76,78.04 655.64,78.21 656.51,79.19 657.39,79.22 658.05,79.12 658.70,78.74 659.36,77.70 660.02,77.18 660.55,77.04 661.07,76.21 661.60,75.08 662.12,74.41 662.65,73.81 663.17,73.70 663.70,72.82 664.22,71.44 664.75,71.26 665.27,70.61 665.39,69.49 665.51,68.37 665.63,67.71 665.75,66.50 665.87,65.56 665.99,65.59 666.11,64.46 666.23,63.51 666.35,63.04 666.47,61.76 666.59,61.31 666.75,60.45 666.92,59.08 667.08,58.29 667.25,57.51 667.41,56.64 667.57,56.13 667.74,55.01 667.90,54.34 668.12,53.20 668.34,53.03 668.56,51.65 668.77,50.87 668.99,50.11 669.21,49.52 669.34,48.25 669.47,47.85 669.61,46.64 669.74,45.82 669.87,44.98 670.00,43.68 670.13,43.22 670.27,42.15 670.40,41.14 670.53,41.02 671.84,40.46 671.90,39.91 671.96,39.33 672.02,38.36 672.08,37.34 672.14,36.71 672.20,35.93 672.26,35.32 672.32,33.90 672.38,33.49 672.44,32.40 672.50,31.61 672.56,31.25 672.62,30.20 672.68,29.43 672.74,28.80 672.80,28.12 672.86,26.89 672.92,26.23 672.98,25.32 673.04,24.52 673.10,23.87 673.16,22.88" fill="none" stroke="#10f010" stroke-width="1.15" stroke-linejoin="round" />
<rect x="507.6" y="84.90" width="103.50" height="8.80" fill="#fff"/>
<text x="508.80" y="93.10" font-size="9.9" text-anchor="start" font-weight="normal" fill="#000" textLength="101.2" lengthAdjust="spacingAndGlyphs">NES –1.8;&#160; FDR q=0.0078</text>
<text x="0.00" y="0.00" font-size="6.0" text-anchor="middle" font-weight="bold" fill="#333" transform="translate(493.4,57.2) rotate(-90) scale(0.975,1)">Enrichment score (ES)</text>
<rect x="507.0" y="95.3" width="174.0" height="23.900000000000006" fill="#fff" stroke="#c8c8c8" stroke-width="0.5"/>
<rect x="515.90" y="95.8" width="1.30" height="23.40" fill="rgb(150,150,150)"/>
<rect x="517.20" y="95.8" width="1.30" height="23.40" fill="rgb(200,200,200)"/>
<rect x="528.00" y="95.8" width="2.00" height="23.40" fill="rgb(100,100,100)"/>
<rect x="530.00" y="95.8" width="1.30" height="23.40" fill="rgb(180,180,180)"/>
<rect x="543.80" y="95.8" width="1.00" height="23.40" fill="rgb(130,130,130)"/>
<rect x="552.50" y="95.8" width="1.10" height="23.40" fill="rgb(130,130,130)"/>
<rect x="559.90" y="95.8" width="1.30" height="23.40" fill="rgb(110,110,110)"/>
<rect x="566.10" y="95.8" width="1.00" height="23.40" fill="rgb(50,50,50)"/>
<rect x="570.00" y="95.8" width="1.00" height="23.40" fill="rgb(40,40,40)"/>
<rect x="571.70" y="95.8" width="1.30" height="23.40" fill="rgb(200,200,200)"/>
<rect x="573.70" y="95.8" width="1.30" height="23.40" fill="rgb(130,130,130)"/>
<rect x="578.90" y="95.8" width="1.00" height="23.40" fill="rgb(70,70,70)"/>
<rect x="583.80" y="95.8" width="1.40" height="23.40" fill="rgb(10,10,10)"/>
<rect x="589.10" y="95.8" width="1.00" height="23.40" fill="rgb(20,20,20)"/>
<rect x="590.10" y="95.8" width="2.90" height="23.40" fill="rgb(200,200,200)"/>
<rect x="596.90" y="95.8" width="1.40" height="23.40" fill="rgb(80,80,80)"/>
<rect x="598.30" y="95.8" width="2.60" height="23.40" fill="rgb(130,130,130)"/>
<rect x="602.90" y="95.8" width="1.60" height="23.40" fill="rgb(120,120,120)"/>
<rect x="606.10" y="95.8" width="1.70" height="23.40" fill="rgb(80,80,80)"/>
<rect x="607.80" y="95.8" width="1.30" height="23.40" fill="rgb(30,30,30)"/>
<rect x="613.00" y="95.8" width="1.00" height="23.40" fill="rgb(110,110,110)"/>
<rect x="615.70" y="95.8" width="1.30" height="23.40" fill="rgb(30,30,30)"/>
<rect x="620.00" y="95.8" width="2.90" height="23.40" fill="rgb(130,130,130)"/>
<rect x="625.90" y="95.8" width="0.90" height="23.40" fill="rgb(30,30,30)"/>
<rect x="629.10" y="95.8" width="2.00" height="23.40" fill="rgb(130,130,130)"/>
<rect x="631.10" y="95.8" width="1.70" height="23.40" fill="rgb(150,150,150)"/>
<rect x="634.40" y="95.8" width="1.30" height="23.40" fill="rgb(60,60,60)"/>
<rect x="637.00" y="95.8" width="1.60" height="23.40" fill="rgb(110,110,110)"/>
<rect x="640.00" y="95.8" width="1.00" height="23.40" fill="rgb(50,50,50)"/>
<rect x="641.30" y="95.8" width="3.30" height="23.40" fill="rgb(110,110,110)"/>
<rect x="646.90" y="95.8" width="0.90" height="23.40" fill="rgb(90,90,90)"/>
<rect x="650.50" y="95.8" width="2.30" height="23.40" fill="rgb(10,10,10)"/>
<rect x="656.10" y="95.8" width="0.70" height="23.40" fill="rgb(140,140,140)"/>
<rect x="658.00" y="95.8" width="2.70" height="23.40" fill="rgb(190,190,190)"/>
<rect x="660.70" y="95.8" width="1.30" height="23.40" fill="rgb(50,50,50)"/>
<rect x="662.00" y="95.8" width="2.60" height="23.40" fill="rgb(150,150,150)"/>
<rect x="664.60" y="95.8" width="1.60" height="23.40" fill="rgb(30,30,30)"/>
<rect x="666.20" y="95.8" width="1.70" height="23.40" fill="rgb(60,60,60)"/>
<rect x="668.90" y="95.8" width="1.30" height="23.40" fill="rgb(10,10,10)"/>
<rect x="671.80" y="95.8" width="1.30" height="23.40" fill="rgb(40,40,40)"/>
<rect x="507.0" y="119.2" width="174.0" height="6.599999999999994" fill="#fff"/>
<rect x="507.00" y="119.2" width="6.90" height="6.599999999999994" fill="#f0404a"/>
<rect x="513.90" y="119.2" width="25.00" height="6.599999999999994" fill="#ff5054"/>
<rect x="538.90" y="119.2" width="14.10" height="6.599999999999994" fill="#ff6a7c"/>
<rect x="553.00" y="119.2" width="15.40" height="6.599999999999994" fill="#ff8686"/>
<rect x="568.40" y="119.2" width="16.80" height="6.599999999999994" fill="#ffbee6"/>
<rect x="585.20" y="119.2" width="16.70" height="6.599999999999994" fill="#d6d6ff"/>
<rect x="601.90" y="119.2" width="19.00" height="6.599999999999994" fill="#c2bcff"/>
<rect x="620.90" y="119.2" width="15.10" height="6.599999999999994" fill="#8282ff"/>
<rect x="636.00" y="119.2" width="28.30" height="6.599999999999994" fill="#6a52f0"/>
<rect x="664.30" y="119.2" width="6.90" height="6.599999999999994" fill="#2404da"/>
<rect x="671.20" y="119.2" width="1.90" height="6.599999999999994" fill="#4a10a4"/>
<rect x="507.0" y="125.8" width="174.0" height="49.3" fill="#fff"/>
<line x1="528.75" y1="125.8" x2="528.75" y2="175.1" stroke="#e2e2e2" stroke-width="0.6" stroke-dasharray="1.5,1.5"/>
<line x1="550.50" y1="125.8" x2="550.50" y2="175.1" stroke="#e2e2e2" stroke-width="0.6" stroke-dasharray="1.5,1.5"/>
<line x1="572.25" y1="125.8" x2="572.25" y2="175.1" stroke="#e2e2e2" stroke-width="0.6" stroke-dasharray="1.5,1.5"/>
<line x1="594.00" y1="125.8" x2="594.00" y2="175.1" stroke="#e2e2e2" stroke-width="0.6" stroke-dasharray="1.5,1.5"/>
<line x1="615.75" y1="125.8" x2="615.75" y2="175.1" stroke="#e2e2e2" stroke-width="0.6" stroke-dasharray="1.5,1.5"/>
<line x1="637.50" y1="125.8" x2="637.50" y2="175.1" stroke="#e2e2e2" stroke-width="0.6" stroke-dasharray="1.5,1.5"/>
<line x1="659.25" y1="125.8" x2="659.25" y2="175.1" stroke="#e2e2e2" stroke-width="0.6" stroke-dasharray="1.5,1.5"/>
<line x1="507.0" y1="127.94" x2="681.0" y2="127.94" stroke="#e2e2e2" stroke-width="0.6" stroke-dasharray="1.5,1.5"/>
<text x="504.20" y="129.74" font-size="5.75" text-anchor="end" font-weight="normal" fill="#444" font-family="Liberation Serif">2</text>
<line x1="507.0" y1="136.52" x2="681.0" y2="136.52" stroke="#e2e2e2" stroke-width="0.6" stroke-dasharray="1.5,1.5"/>
<text x="504.20" y="138.32" font-size="5.75" text-anchor="end" font-weight="normal" fill="#444" font-family="Liberation Serif">1</text>
<text x="504.20" y="146.90" font-size="5.75" text-anchor="end" font-weight="normal" fill="#444" font-family="Liberation Serif">0</text>
<text x="504.20" y="155.48" font-size="5.75" text-anchor="end" font-weight="normal" fill="#444" font-family="Liberation Serif">-1</text>
<line x1="507.0" y1="162.26" x2="681.0" y2="162.26" stroke="#e2e2e2" stroke-width="0.6" stroke-dasharray="1.5,1.5"/>
<text x="504.20" y="164.06" font-size="5.75" text-anchor="end" font-weight="normal" fill="#444" font-family="Liberation Serif">-2</text>
<line x1="507.0" y1="170.84" x2="681.0" y2="170.84" stroke="#e2e2e2" stroke-width="0.6" stroke-dasharray="1.5,1.5"/>
<text x="504.20" y="172.64" font-size="5.75" text-anchor="end" font-weight="normal" fill="#444" font-family="Liberation Serif">-3</text>
<path d="M507.0,145.10 L507.00,131.37 L508.00,136.18 L509.33,137.98 L511.66,139.35 L516.32,140.47 L525.81,141.32 L535.29,142.10 L544.61,142.70 L557.42,143.38 L584.80,145.10 L594.87,145.99 L616.66,147.67 L638.63,150.01 L653.27,152.68 L663.42,155.47 L669.24,159.04 L671.90,164.40 L672.90,166.55 L673.40,173.41 L673.40,145.10 Z" fill="#c4c4c4"/>
<line x1="584.80" y1="125.8" x2="584.80" y2="175.1" stroke="#666" stroke-width="0.6" stroke-dasharray="1.7,0.9"/>
<rect x="507.0" y="125.8" width="174.0" height="49.3" fill="none" stroke="#d4d4d4" stroke-width="0.7"/>
<line x1="507.0" y1="125.8" x2="507.0" y2="175.1" stroke="#999" stroke-width="0.8"/>
<text transform="translate(508.40,130.30) scale(0.847,1)" font-size="4.837999999999999" text-anchor="start" font-weight="normal" fill="#ff2a2a" >4wPD1+&#39; (positively correlated)</text>
<text transform="translate(583.00,152.10) scale(0.847,1)" font-size="4.366" text-anchor="middle" font-weight="normal" fill="#333" >Zero cross at 7060</text>
<text transform="translate(593.50,173.70) scale(0.847,1)" font-size="4.72" text-anchor="start" font-weight="normal" fill="#2828ff" >&#39;25wSP&#39; (negatively correlated)</text>
<text x="507.00" y="181.60" font-size="4.644" text-anchor="middle" font-weight="normal" fill="#2a2a2a" font-family="Liberation Serif">0</text>
<line x1="507.00" y1="175.1" x2="507.00" y2="176.6" stroke="#999" stroke-width="0.5"/>
<text x="528.75" y="181.60" font-size="4.644" text-anchor="middle" font-weight="normal" fill="#2a2a2a" font-family="Liberation Serif">2,000</text>
<line x1="528.75" y1="175.1" x2="528.75" y2="176.6" stroke="#999" stroke-width="0.5"/>
<text x="550.50" y="181.60" font-size="4.644" text-anchor="middle" font-weight="normal" fill="#2a2a2a" font-family="Liberation Serif">4,000</text>
<line x1="550.50" y1="175.1" x2="550.50" y2="176.6" stroke="#999" stroke-width="0.5"/>
<text x="572.25" y="181.60" font-size="4.644" text-anchor="middle" font-weight="normal" fill="#2a2a2a" font-family="Liberation Serif">6,000</text>
<line x1="572.25" y1="175.1" x2="572.25" y2="176.6" stroke="#999" stroke-width="0.5"/>
<text x="594.00" y="181.60" font-size="4.644" text-anchor="middle" font-weight="normal" fill="#2a2a2a" font-family="Liberation Serif">8,000</text>
<line x1="594.00" y1="175.1" x2="594.00" y2="176.6" stroke="#999" stroke-width="0.5"/>
<text x="615.75" y="181.60" font-size="4.644" text-anchor="middle" font-weight="normal" fill="#2a2a2a" font-family="Liberation Serif">10,000</text>
<line x1="615.75" y1="175.1" x2="615.75" y2="176.6" stroke="#999" stroke-width="0.5"/>
<text x="637.50" y="181.60" font-size="4.644" text-anchor="middle" font-weight="normal" fill="#2a2a2a" font-family="Liberation Serif">12,000</text>
<line x1="637.50" y1="175.1" x2="637.50" y2="176.6" stroke="#999" stroke-width="0.5"/>
<text x="659.25" y="181.60" font-size="4.644" text-anchor="middle" font-weight="normal" fill="#2a2a2a" font-family="Liberation Serif">14,000</text>
<line x1="659.25" y1="175.1" x2="659.25" y2="176.6" stroke="#999" stroke-width="0.5"/>
<text transform="translate(592.00,188.60) scale(0.847,1)" font-size="5.782" text-anchor="middle" font-weight="normal" fill="#333" >Rank in Ordered Dataset</text>
<text x="0.00" y="0.00" font-size="4.9" text-anchor="middle" font-weight="bold" fill="#333" transform="translate(495.8,148.8) rotate(-90)">Ranked list metric (Signal2Noise)</text>
<rect x="512.3" y="192.7" width="142.30000000000007" height="8.800000000000011" fill="#fff" stroke="#555" stroke-width="0.8"/>
<line x1="513.7" y1="197.10" x2="519.3" y2="197.10" stroke="#10e010" stroke-width="0.9"/>
<text transform="translate(520.70,199.10) scale(0.847,1)" font-size="5.782" text-anchor="start" font-weight="normal" fill="#222" >Enrichment profile</text>
<line x1="565.6" y1="197.10" x2="570.7" y2="197.10" stroke="#222" stroke-width="0.9"/>
<text transform="translate(572.60,199.10) scale(0.847,1)" font-size="5.782" text-anchor="start" font-weight="normal" fill="#222" >Hits</text>
<line x1="594.1" y1="197.10" x2="599.5" y2="197.10" stroke="#ccc" stroke-width="0.9"/>
<text transform="translate(601.80,199.10) scale(0.847,1)" font-size="5.782" text-anchor="start" font-weight="normal" fill="#222" >Ranking metric scores</text></g>
<g filter="url(#soft)"><rect x="482.2" y="442.2" width="191.00000000000006" height="191.3" fill="#f1f1f1"/>
<text x="484.40" y="450.80" font-size="10.15" text-anchor="start" font-weight="bold" fill="#000" >REACTOME CELLULAR SENESCENCE</text>
<rect x="506.5" y="452.8" width="163.5" height="73.80000000000001" fill="#fff"/>
<line x1="523.50" y1="452.8" x2="523.50" y2="526.6" stroke="#e2e2e2" stroke-width="0.6" stroke-dasharray="1.5,1.5"/>
<line x1="540.50" y1="452.8" x2="540.50" y2="526.6" stroke="#e2e2e2" stroke-width="0.6" stroke-dasharray="1.5,1.5"/>
<line x1="557.50" y1="452.8" x2="557.50" y2="526.6" stroke="#e2e2e2" stroke-width="0.6" stroke-dasharray="1.5,1.5"/>
<line x1="574.50" y1="452.8" x2="574.50" y2="526.6" stroke="#e2e2e2" stroke-width="0.6" stroke-dasharray="1.5,1.5"/>
<line x1="591.50" y1="452.8" x2="591.50" y2="526.6" stroke="#e2e2e2" stroke-width="0.6" stroke-dasharray="1.5,1.5"/>
<line x1="608.50" y1="452.8" x2="608.50" y2="526.6" stroke="#e2e2e2" stroke-width="0.6" stroke-dasharray="1.5,1.5"/>
<line x1="625.50" y1="452.8" x2="625.50" y2="526.6" stroke="#e2e2e2" stroke-width="0.6" stroke-dasharray="1.5,1.5"/>
<line x1="642.50" y1="452.8" x2="642.50" y2="526.6" stroke="#e2e2e2" stroke-width="0.6" stroke-dasharray="1.5,1.5"/>
<line x1="506.5" y1="455.09" x2="670" y2="455.09" stroke="#e2e2e2" stroke-width="0.6" stroke-dasharray="1.5,1.5"/>
<text x="504.10" y="456.89" font-size="6.136" text-anchor="end" font-weight="normal" fill="#444" font-family="Liberation Serif">0.45</text>
<line x1="505.0" y1="455.09" x2="506.5" y2="455.09" stroke="#999" stroke-width="0.5"/>
<line x1="506.5" y1="462.68" x2="670" y2="462.68" stroke="#e2e2e2" stroke-width="0.6" stroke-dasharray="1.5,1.5"/>
<text x="504.10" y="464.48" font-size="6.136" text-anchor="end" font-weight="normal" fill="#444" font-family="Liberation Serif">0.40</text>
<line x1="505.0" y1="462.68" x2="506.5" y2="462.68" stroke="#999" stroke-width="0.5"/>
<line x1="506.5" y1="470.27" x2="670" y2="470.27" stroke="#e2e2e2" stroke-width="0.6" stroke-dasharray="1.5,1.5"/>
<text x="504.10" y="472.07" font-size="6.136" text-anchor="end" font-weight="normal" fill="#444" font-family="Liberation Serif">0.35</text>
<line x1="505.0" y1="470.27" x2="506.5" y2="470.27" stroke="#999" stroke-width="0.5"/>
<line x1="506.5" y1="477.86" x2="670" y2="477.86" stroke="#e2e2e2" stroke-width="0.6" stroke-dasharray="1.5,1.5"/>
<text x="504.10" y="479.66" font-size="6.136" text-anchor="end" font-weight="normal" fill="#444" font-family="Liberation Serif">0.30</text>
<line x1="505.0" y1="477.86" x2="506.5" y2="477.86" stroke="#999" stroke-width="0.5"/>
<line x1="506.5" y1="485.45" x2="670" y2="485.45" stroke="#e2e2e2" stroke-width="0.6" stroke-dasharray="1.5,1.5"/>
<text x="504.10" y="487.25" font-size="6.136" text-anchor="end" font-weight="normal" fill="#444" font-family="Liberation Serif">0.25</text>
<line x1="505.0" y1="485.45" x2="506.5" y2="485.45" stroke="#999" stroke-width="0.5"/>
<line x1="506.5" y1="493.04" x2="670" y2="493.04" stroke="#e2e2e2" stroke-width="0.6" stroke-dasharray="1.5,1.5"/>
<text x="504.10" y="494.84" font-size="6.136" text-anchor="end" font-weight="normal" fill="#444" font-family="Liberation Serif">0.20</text>
<line x1="505.0" y1="493.04" x2="506.5" y2="493.04" stroke="#999" stroke-width="0.5"/>
<line x1="506.5" y1="500.63" x2="670" y2="500.63" stroke="#e2e2e2" stroke-width="0.6" stroke-dasharray="1.5,1.5"/>
<text x="504.10" y="502.43" font-size="6.136" text-anchor="end" font-weight="normal" fill="#444" font-family="Liberation Serif">0.15</text>
<line x1="505.0" y1="500.63" x2="506.5" y2="500.63" stroke="#999" stroke-width="0.5"/>
<line x1="506.5" y1="508.22" x2="670" y2="508.22" stroke="#e2e2e2" stroke-width="0.6" stroke-dasharray="1.5,1.5"/>
<text x="504.10" y="510.02" font-size="6.136" text-anchor="end" font-weight="normal" fill="#444" font-family="Liberation Serif">0.10</text>
<line x1="505.0" y1="508.22" x2="506.5" y2="508.22" stroke="#999" stroke-width="0.5"/>
<line x1="506.5" y1="515.81" x2="670" y2="515.81" stroke="#e2e2e2" stroke-width="0.6" stroke-dasharray="1.5,1.5"/>
<text x="504.10" y="517.61" font-size="6.136" text-anchor="end" font-weight="normal" fill="#444" font-family="Liberation Serif">0.05</text>
<line x1="505.0" y1="515.81" x2="506.5" y2="515.81" stroke="#999" stroke-width="0.5"/>
<line x1="506.5" y1="523.40" x2="670" y2="523.40" stroke="#e2e2e2" stroke-width="0.6" stroke-dasharray="1.5,1.5"/>
<text x="504.10" y="525.20" font-size="6.136" text-anchor="end" font-weight="normal" fill="#444" font-family="Liberation Serif">0.00</text>
<line x1="505.0" y1="523.40" x2="506.5" y2="523.40" stroke="#999" stroke-width="0.5"/>
<line x1="506.5" y1="523.40" x2="670" y2="523.40" stroke="#909090" stroke-width="0.9"/>
<rect x="506.5" y="452.8" width="163.5" height="73.80000000000001" fill="none" stroke="#d4d4d4" stroke-width="0.7"/>
<line x1="506.5" y1="452.8" x2="506.5" y2="526.6" stroke="#999" stroke-width="0.8"/>
<polyline points="506.28,523.27 506.49,522.55 506.70,522.11 506.90,520.77 507.11,519.98 507.32,519.23 507.53,517.95 507.84,517.37 508.16,516.56 508.48,515.79 508.79,514.08 509.63,514.06 510.46,513.58 511.30,514.12 511.48,513.20 511.66,511.70 511.84,511.94 512.01,511.14 512.19,510.01 512.37,509.18 512.55,507.88 512.69,506.89 512.83,506.62 512.97,505.26 513.11,504.57 513.25,503.79 513.39,502.72 513.53,502.36 513.67,501.49 513.81,501.10 514.02,499.90 514.23,499.20 514.44,498.21 514.65,497.55 514.86,496.49 515.07,495.46 515.27,495.41 515.48,494.57 515.69,493.56 515.90,492.58 516.11,491.31 516.32,490.38 516.46,489.61 516.60,488.53 516.74,488.46 516.88,487.22 517.01,486.88 517.15,485.54 517.29,485.33 517.43,484.37 517.57,482.60 517.79,481.99 518.02,481.93 518.24,480.61 518.46,480.33 518.69,478.85 518.91,477.66 519.13,477.44 519.36,476.76 519.58,475.37 520.34,474.54 521.09,474.18 521.85,474.25 522.60,473.39 523.44,472.27 524.27,471.99 525.11,471.41 525.45,470.53 525.78,470.50 526.12,468.99 526.45,468.57 526.78,467.61 527.12,466.49 528.00,466.46 528.87,465.16 529.81,465.42 530.75,464.52 531.70,464.55 532.64,464.00 533.39,463.71 534.14,464.13 534.90,463.60 535.65,462.70 536.40,462.98 537.03,461.70 537.66,461.36 538.28,461.32 538.91,460.54 539.54,459.40 540.17,459.84 541.01,458.98 541.84,459.03 542.68,459.60 543.52,459.11 544.35,459.08 545.19,458.83 545.94,458.50 546.70,458.69 547.45,457.96 548.21,458.00 548.96,457.40 549.90,457.30 550.84,457.67 551.78,456.96 552.72,456.87 553.56,457.40 554.40,456.86 555.24,457.03 556.07,458.07 556.91,458.18 557.75,457.76 558.59,458.03 559.42,458.97 560.26,459.53 561.10,459.05 561.93,460.21 562.77,460.47 563.61,460.16 564.44,459.96 565.28,459.61 566.12,459.54 566.95,460.56 567.79,459.76 568.63,460.57 569.46,460.37 570.30,461.29 571.14,461.33 571.97,461.29 572.81,461.45 573.65,462.26 574.48,461.75 575.32,462.14 576.16,462.71 576.99,463.24 577.83,463.19 578.55,463.25 579.26,464.38 579.98,464.03 580.70,464.25 581.42,464.96 582.13,465.59 582.85,465.60 583.57,466.19 584.28,466.87 585.00,467.56 585.72,467.54 586.44,468.26 587.15,469.30 587.87,469.87 588.59,470.05 589.30,470.63 590.02,471.05 590.74,471.10 591.46,471.52 592.17,472.04 592.89,473.56 593.61,473.69 594.33,474.34 595.05,473.66 595.76,474.69 596.48,474.88 597.20,475.51 597.92,475.42 598.55,476.69 599.17,476.20 599.80,477.24 600.43,477.97 601.06,478.67 601.68,479.02 602.31,479.50 602.94,480.12 603.57,480.78 604.20,480.68 604.82,481.57 605.45,482.33 606.08,482.82 606.71,482.85 607.33,483.78 607.96,484.38 608.59,484.59 609.22,485.17 609.84,485.42 610.47,486.17 611.10,486.72 611.73,486.66 612.35,487.80 612.98,488.71 613.56,489.17 614.14,489.58 614.72,489.78 615.30,490.75 615.88,491.16 616.46,491.58 617.03,492.60 617.61,492.35 618.19,493.66 618.77,493.45 619.35,494.65 619.93,495.10 620.51,495.40 621.14,496.44 621.76,496.74 622.39,497.40 623.02,498.26 623.65,498.05 624.27,498.30 624.90,499.14 625.53,500.08 626.16,500.08 626.78,500.57 627.41,501.90 628.04,502.16 628.73,502.37 629.41,503.32 630.10,503.16 630.78,503.99 631.47,503.93 632.15,504.64 632.84,505.51 633.52,506.09 634.21,506.51 634.89,506.42 635.58,507.09 636.42,507.09 637.25,507.19 638.09,507.88 638.93,508.54 639.76,508.85 640.60,508.99 641.44,509.59 642.27,509.18 643.11,509.40 643.95,510.05 644.78,510.19 645.62,510.46 646.34,511.11 647.05,511.77 647.77,512.05 648.49,512.29 649.21,513.29 649.92,513.88 650.64,513.73 651.27,513.88 651.89,514.39 652.52,515.89 653.15,515.54 653.78,516.83 654.40,517.25 655.03,517.52 655.66,518.62 656.29,518.27 656.92,518.90 657.54,519.76 658.17,519.78 658.80,521.17 659.43,521.02 660.25,521.42 661.06,521.82 661.88,522.96 662.69,523.32" fill="none" stroke="#5cbf3a" stroke-width="1.4" stroke-linejoin="round" />
<text x="0.00" y="0.00" font-size="5.45" text-anchor="middle" font-weight="bold" fill="#333" transform="translate(491.9,489.8) rotate(-90) scale(0.975,1)">Enrichment score (ES)</text>
<rect x="506.5" y="527.4" width="163.5" height="24.800000000000068" fill="#fff" stroke="#c8c8c8" stroke-width="0.5"/>
<rect x="506.30" y="527.9" width="1.60" height="24.30" fill="rgb(100,100,100)"/>
<rect x="507.90" y="527.9" width="2.00" height="24.30" fill="rgb(130,130,130)"/>
<rect x="510.90" y="527.9" width="2.30" height="24.30" fill="rgb(5,5,5)"/>
<rect x="513.20" y="527.9" width="0.70" height="24.30" fill="rgb(60,60,60)"/>
<rect x="513.90" y="527.9" width="0.90" height="24.30" fill="rgb(5,5,5)"/>
<rect x="514.80" y="527.9" width="1.00" height="24.30" fill="rgb(80,80,80)"/>
<rect x="515.80" y="527.9" width="1.00" height="24.30" fill="rgb(30,30,30)"/>
<rect x="516.80" y="527.9" width="3.00" height="24.30" fill="rgb(5,5,5)"/>
<rect x="519.80" y="527.9" width="1.00" height="24.30" fill="rgb(130,130,130)"/>
<rect x="520.80" y="527.9" width="1.30" height="24.30" fill="rgb(180,180,180)"/>
<rect x="522.10" y="527.9" width="1.00" height="24.30" fill="rgb(100,100,100)"/>
<rect x="523.70" y="527.9" width="1.00" height="24.30" fill="rgb(150,150,150)"/>
<rect x="524.70" y="527.9" width="2.00" height="24.30" fill="rgb(170,170,170)"/>
<rect x="526.70" y="527.9" width="1.00" height="24.30" fill="rgb(10,10,10)"/>
<rect x="528.60" y="527.9" width="1.40" height="24.30" fill="rgb(220,220,220)"/>
<rect x="530.00" y="527.9" width="0.90" height="24.30" fill="rgb(10,10,10)"/>
<rect x="531.90" y="527.9" width="1.00" height="24.30" fill="rgb(170,170,170)"/>
<rect x="532.90" y="527.9" width="1.00" height="24.30" fill="rgb(120,120,120)"/>
<rect x="533.90" y="527.9" width="1.00" height="24.30" fill="rgb(150,150,150)"/>
<rect x="536.20" y="527.9" width="1.30" height="24.30" fill="rgb(60,60,60)"/>
<rect x="537.50" y="527.9" width="1.30" height="24.30" fill="rgb(140,140,140)"/>
<rect x="538.80" y="527.9" width="1.00" height="24.30" fill="rgb(10,10,10)"/>
<rect x="540.80" y="527.9" width="1.00" height="24.30" fill="rgb(100,100,100)"/>
<rect x="541.80" y="527.9" width="1.00" height="24.30" fill="rgb(200,200,200)"/>
<rect x="542.80" y="527.9" width="1.00" height="24.30" fill="rgb(150,150,150)"/>
<rect x="544.70" y="527.9" width="2.00" height="24.30" fill="rgb(80,80,80)"/>
<rect x="547.70" y="527.9" width="0.70" height="24.30" fill="rgb(100,100,100)"/>
<rect x="548.00" y="527.9" width="1.00" height="24.30" fill="rgb(30,30,30)"/>
<rect x="549.00" y="527.9" width="2.90" height="24.30" fill="rgb(90,90,90)"/>
<rect x="552.90" y="527.9" width="3.00" height="24.30" fill="rgb(150,150,150)"/>
<rect x="555.90" y="527.9" width="1.00" height="24.30" fill="rgb(10,10,10)"/>
<rect x="559.20" y="527.9" width="1.60" height="24.30" fill="rgb(110,110,110)"/>
<rect x="562.10" y="527.9" width="1.70" height="24.30" fill="rgb(100,100,100)"/>
<rect x="563.80" y="527.9" width="1.90" height="24.30" fill="rgb(160,160,160)"/>
<rect x="565.70" y="527.9" width="1.70" height="24.30" fill="rgb(40,40,40)"/>
<rect x="567.40" y="527.9" width="1.00" height="24.30" fill="rgb(120,120,120)"/>
<rect x="568.40" y="527.9" width="0.70" height="24.30" fill="rgb(50,50,50)"/>
<rect x="571.00" y="527.9" width="1.00" height="24.30" fill="rgb(60,60,60)"/>
<rect x="572.00" y="527.9" width="1.00" height="24.30" fill="rgb(200,200,200)"/>
<rect x="573.00" y="527.9" width="1.90" height="24.30" fill="rgb(50,50,50)"/>
<rect x="575.90" y="527.9" width="2.00" height="24.30" fill="rgb(150,150,150)"/>
<rect x="579.20" y="527.9" width="2.60" height="24.30" fill="rgb(100,100,100)"/>
<rect x="581.80" y="527.9" width="3.00" height="24.30" fill="rgb(130,130,130)"/>
<rect x="588.10" y="527.9" width="0.90" height="24.30" fill="rgb(180,180,180)"/>
<rect x="590.00" y="527.9" width="2.00" height="24.30" fill="rgb(40,40,40)"/>
<rect x="593.00" y="527.9" width="0.90" height="24.30" fill="rgb(50,50,50)"/>
<rect x="594.90" y="527.9" width="2.00" height="24.30" fill="rgb(90,90,90)"/>
<rect x="597.90" y="527.9" width="1.00" height="24.30" fill="rgb(90,90,90)"/>
<rect x="601.20" y="527.9" width="3.60" height="24.30" fill="rgb(130,130,130)"/>
<rect x="607.70" y="527.9" width="2.00" height="24.30" fill="rgb(50,50,50)"/>
<rect x="611.00" y="527.9" width="1.30" height="24.30" fill="rgb(60,60,60)"/>
<rect x="612.30" y="527.9" width="2.00" height="24.30" fill="rgb(130,130,130)"/>
<rect x="617.00" y="527.9" width="1.90" height="24.30" fill="rgb(120,120,120)"/>
<rect x="620.90" y="527.9" width="2.00" height="24.30" fill="rgb(50,50,50)"/>
<rect x="623.80" y="527.9" width="2.00" height="24.30" fill="rgb(140,140,140)"/>
<rect x="628.80" y="527.9" width="1.60" height="24.30" fill="rgb(100,100,100)"/>
<rect x="631.70" y="527.9" width="2.20" height="24.30" fill="rgb(110,110,110)"/>
<rect x="634.90" y="527.9" width="1.70" height="24.30" fill="rgb(190,190,190)"/>
<rect x="638.20" y="527.9" width="2.30" height="24.30" fill="rgb(60,60,60)"/>
<rect x="640.80" y="527.9" width="1.40" height="24.30" fill="rgb(80,80,80)"/>
<rect x="643.10" y="527.9" width="0.70" height="24.30" fill="rgb(130,130,130)"/>
<rect x="648.10" y="527.9" width="1.60" height="24.30" fill="rgb(120,120,120)"/>
<rect x="657.90" y="527.9" width="1.00" height="24.30" fill="rgb(110,110,110)"/>
<rect x="506.5" y="552.2" width="163.5" height="6.2999999999999545" fill="#fff"/>
<rect x="506.50" y="552.2" width="6.50" height="6.2999999999999545" fill="#ea3c3e"/>
<rect x="513.00" y="552.2" width="38.00" height="6.2999999999999545" fill="#ef5656"/>
<rect x="551.00" y="552.2" width="21.00" height="6.2999999999999545" fill="#ef6e7c"/>
<rect x="572.00" y="552.2" width="19.00" height="6.2999999999999545" fill="#f08a8a"/>
<rect x="591.00" y="552.2" width="20.00" height="6.2999999999999545" fill="#f3bcd8"/>
<rect x="611.00" y="552.2" width="14.00" height="6.2999999999999545" fill="#d9d4ee"/>
<rect x="625.00" y="552.2" width="9.00" height="6.2999999999999545" fill="#c2bce2"/>
<rect x="634.00" y="552.2" width="7.10" height="6.2999999999999545" fill="#7474c4"/>
<rect x="641.10" y="552.2" width="16.50" height="6.2999999999999545" fill="#5a54aa"/>
<rect x="657.60" y="552.2" width="4.30" height="6.2999999999999545" fill="#3838a0"/>
<rect x="506.5" y="558.5" width="163.5" height="50.0" fill="#fff"/>
<line x1="523.50" y1="558.5" x2="523.50" y2="608.5" stroke="#e2e2e2" stroke-width="0.6" stroke-dasharray="1.5,1.5"/>
<line x1="540.50" y1="558.5" x2="540.50" y2="608.5" stroke="#e2e2e2" stroke-width="0.6" stroke-dasharray="1.5,1.5"/>
<line x1="557.50" y1="558.5" x2="557.50" y2="608.5" stroke="#e2e2e2" stroke-width="0.6" stroke-dasharray="1.5,1.5"/>
<line x1="574.50" y1="558.5" x2="574.50" y2="608.5" stroke="#e2e2e2" stroke-width="0.6" stroke-dasharray="1.5,1.5"/>
<line x1="591.50" y1="558.5" x2="591.50" y2="608.5" stroke="#e2e2e2" stroke-width="0.6" stroke-dasharray="1.5,1.5"/>
<line x1="608.50" y1="558.5" x2="608.50" y2="608.5" stroke="#e2e2e2" stroke-width="0.6" stroke-dasharray="1.5,1.5"/>
<line x1="625.50" y1="558.5" x2="625.50" y2="608.5" stroke="#e2e2e2" stroke-width="0.6" stroke-dasharray="1.5,1.5"/>
<line x1="642.50" y1="558.5" x2="642.50" y2="608.5" stroke="#e2e2e2" stroke-width="0.6" stroke-dasharray="1.5,1.5"/>
<line x1="506.5" y1="560.50" x2="670" y2="560.50" stroke="#e2e2e2" stroke-width="0.6" stroke-dasharray="1.5,1.5"/>
<text x="503.70" y="562.30" font-size="5.289999999999999" text-anchor="end" font-weight="normal" fill="#444" font-family="Liberation Serif">2</text>
<line x1="506.5" y1="569.90" x2="670" y2="569.90" stroke="#e2e2e2" stroke-width="0.6" stroke-dasharray="1.5,1.5"/>
<text x="503.70" y="571.70" font-size="5.289999999999999" text-anchor="end" font-weight="normal" fill="#444" font-family="Liberation Serif">1</text>
<text x="503.70" y="581.10" font-size="5.289999999999999" text-anchor="end" font-weight="normal" fill="#444" font-family="Liberation Serif">0</text>
<line x1="506.5" y1="588.70" x2="670" y2="588.70" stroke="#e2e2e2" stroke-width="0.6" stroke-dasharray="1.5,1.5"/>
<text x="503.70" y="590.50" font-size="5.289999999999999" text-anchor="end" font-weight="normal" fill="#444" font-family="Liberation Serif">-1</text>
<line x1="506.5" y1="598.10" x2="670" y2="598.10" stroke="#e2e2e2" stroke-width="0.6" stroke-dasharray="1.5,1.5"/>
<text x="503.70" y="599.90" font-size="5.289999999999999" text-anchor="end" font-weight="normal" fill="#444" font-family="Liberation Serif">-2</text>
<line x1="506.5" y1="607.50" x2="670" y2="607.50" stroke="#e2e2e2" stroke-width="0.6" stroke-dasharray="1.5,1.5"/>
<text x="503.70" y="609.30" font-size="5.289999999999999" text-anchor="end" font-weight="normal" fill="#444" font-family="Liberation Serif">-3</text>
<path d="M506.5,579.30 L506.50,564.26 L507.78,569.52 L509.48,571.50 L512.45,573.00 L518.41,574.22 L530.53,575.16 L542.65,576.01 L554.55,576.67 L570.92,577.42 L605.90,579.30 L612.27,580.05 L626.07,581.46 L639.98,583.44 L649.25,585.69 L655.68,588.04 L659.37,591.05 L661.05,595.56 L661.68,602.80 L662.00,607.50 L662.00,579.30 Z" fill="#c4c4c4"/>
<line x1="605.90" y1="558.5" x2="605.90" y2="608.5" stroke="#bbb" stroke-width="0.6" stroke-dasharray="1.7,0.9"/>
<rect x="506.5" y="558.5" width="163.5" height="50.0" fill="none" stroke="#d4d4d4" stroke-width="0.7"/>
<line x1="506.5" y1="558.5" x2="506.5" y2="608.5" stroke="#999" stroke-width="0.8"/>
<text x="507.80" y="565.00" font-size="7.5" text-anchor="start" font-weight="normal" fill="#f04a4a" >&#39;D&#39; (positively correlated)</text>
<text transform="translate(603.60,585.50) scale(0.847,1)" font-size="4.248" text-anchor="middle" font-weight="normal" fill="#333" >Zero cross at 11737</text>
<text x="587.20" y="607.00" font-size="7.6" text-anchor="start" font-weight="normal" fill="#5a6ac8" >&#39;E&#39; (negatively correlated</text>
<text x="506.50" y="613.80" font-size="4.644" text-anchor="middle" font-weight="normal" fill="#2a2a2a" font-family="Liberation Serif">0</text>
<line x1="506.50" y1="608.5" x2="506.50" y2="610.0" stroke="#999" stroke-width="0.5"/>
<text x="523.50" y="613.80" font-size="4.644" text-anchor="middle" font-weight="normal" fill="#2a2a2a" font-family="Liberation Serif">2,000</text>
<line x1="523.50" y1="608.5" x2="523.50" y2="610.0" stroke="#999" stroke-width="0.5"/>
<text x="540.50" y="613.80" font-size="4.644" text-anchor="middle" font-weight="normal" fill="#2a2a2a" font-family="Liberation Serif">4,000</text>
<line x1="540.50" y1="608.5" x2="540.50" y2="610.0" stroke="#999" stroke-width="0.5"/>
<text x="557.50" y="613.80" font-size="4.644" text-anchor="middle" font-weight="normal" fill="#2a2a2a" font-family="Liberation Serif">6,000</text>
<line x1="557.50" y1="608.5" x2="557.50" y2="610.0" stroke="#999" stroke-width="0.5"/>
<text x="574.50" y="613.80" font-size="4.644" text-anchor="middle" font-weight="normal" fill="#2a2a2a" font-family="Liberation Serif">8,000</text>
<line x1="574.50" y1="608.5" x2="574.50" y2="610.0" stroke="#999" stroke-width="0.5"/>
<text x="591.50" y="613.80" font-size="4.644" text-anchor="middle" font-weight="normal" fill="#2a2a2a" font-family="Liberation Serif">10,000</text>
<line x1="591.50" y1="608.5" x2="591.50" y2="610.0" stroke="#999" stroke-width="0.5"/>
<text x="608.50" y="613.80" font-size="4.644" text-anchor="middle" font-weight="normal" fill="#2a2a2a" font-family="Liberation Serif">12,000</text>
<line x1="608.50" y1="608.5" x2="608.50" y2="610.0" stroke="#999" stroke-width="0.5"/>
<text x="625.50" y="613.80" font-size="4.644" text-anchor="middle" font-weight="normal" fill="#2a2a2a" font-family="Liberation Serif">14,000</text>
<line x1="625.50" y1="608.5" x2="625.50" y2="610.0" stroke="#999" stroke-width="0.5"/>
<text x="642.50" y="613.80" font-size="4.644" text-anchor="middle" font-weight="normal" fill="#2a2a2a" font-family="Liberation Serif">16,000</text>
<line x1="642.50" y1="608.5" x2="642.50" y2="610.0" stroke="#999" stroke-width="0.5"/>
<text x="659.50" y="613.80" font-size="4.644" text-anchor="middle" font-weight="normal" fill="#2a2a2a" font-family="Liberation Serif">18,000</text>
<line x1="659.50" y1="608.5" x2="659.50" y2="610.0" stroke="#999" stroke-width="0.5"/>
<text transform="translate(586.50,620.70) scale(0.847,1)" font-size="5.427999999999999" text-anchor="middle" font-weight="normal" fill="#333" >Rank in Ordered Dataset</text>
<text x="0.00" y="0.00" font-size="4.75" text-anchor="middle" font-weight="bold" fill="#333" transform="translate(496.6,583.0) rotate(-90)">Ranked list metric (Signal2Noise)</text>
<rect x="510.2" y="624.2" width="134.3" height="8.599999999999909" fill="#fff" stroke="#555" stroke-width="0.8"/>
<line x1="511.6" y1="628.50" x2="517.2" y2="628.50" stroke="#5cbf3a" stroke-width="0.9"/>
<text transform="translate(518.60,630.50) scale(0.847,1)" font-size="5.427999999999999" text-anchor="start" font-weight="normal" fill="#222" >Enrichment profile</text>
<line x1="562" y1="628.50" x2="567" y2="628.50" stroke="#555" stroke-width="0.9"/>
<text transform="translate(569.00,630.50) scale(0.847,1)" font-size="5.427999999999999" text-anchor="start" font-weight="normal" fill="#222" >Hits</text>
<line x1="588.5" y1="628.50" x2="593.5" y2="628.50" stroke="#ccc" stroke-width="0.9"/>
<text transform="translate(596.00,630.50) scale(0.847,1)" font-size="5.427999999999999" text-anchor="start" font-weight="normal" fill="#222" >Ranking metric scores</text></g>
<text x="0.50" y="225.10" font-size="20" text-anchor="start" font-weight="normal" fill="#000" >b</text>
<text x="277.30" y="245.10" font-size="10.05" text-anchor="end" font-weight="normal" fill="#111" >DNA damage telomere stress-induced senescence</text>
<line x1="284.8" y1="242.20" x2="292" y2="242.20" stroke="#000" stroke-width="1.6"/>
<rect x="302.60" y="236.30" width="57.50" height="5.6" fill="#ff2c7a" stroke="#6a1f3c" stroke-width="0.6"/>
<rect x="310.49" y="241.90" width="49.61" height="6.1" fill="#000"/>
<text x="277.30" y="259.81" font-size="10.05" text-anchor="end" font-weight="normal" fill="#111" >senescence-associated secretory phenotype</text>
<line x1="284.8" y1="256.91" x2="292" y2="256.91" stroke="#000" stroke-width="1.6"/>
<rect x="319.51" y="251.01" width="40.59" height="5.6" fill="#ff2c7a" stroke="#6a1f3c" stroke-width="0.6"/>
<text x="277.30" y="274.52" font-size="10.05" text-anchor="end" font-weight="normal" fill="#111" >cellular senescence</text>
<line x1="284.8" y1="271.62" x2="292" y2="271.62" stroke="#000" stroke-width="1.6"/>
<rect x="322.67" y="265.72" width="37.43" height="5.6" fill="#ff2c7a" stroke="#6a1f3c" stroke-width="0.6"/>
<text x="277.30" y="289.23" font-size="10.05" text-anchor="end" font-weight="normal" fill="#111" >oxidative stress-induced senescence</text>
<line x1="284.8" y1="286.33" x2="292" y2="286.33" stroke="#000" stroke-width="1.6"/>
<rect x="325.82" y="280.43" width="34.28" height="5.6" fill="#ff2c7a" stroke="#6a1f3c" stroke-width="0.6"/>
<text x="277.30" y="303.94" font-size="10.05" text-anchor="end" font-weight="normal" fill="#111" >oncogene-induced senescence</text>
<line x1="284.8" y1="301.04" x2="292" y2="301.04" stroke="#000" stroke-width="1.6"/>
<rect x="360.10" y="300.74" width="33.60" height="6.1" fill="#000"/>
<text x="277.30" y="318.65" font-size="10.05" text-anchor="end" font-weight="normal" fill="#111" >Fridman senescence UP</text>
<line x1="284.8" y1="315.75" x2="292" y2="315.75" stroke="#000" stroke-width="1.6"/>
<rect x="360.10" y="309.85" width="43.52" height="5.6" fill="#ff2c7a" stroke="#6a1f3c" stroke-width="0.6"/>
<rect x="360.10" y="315.45" width="34.50" height="6.1" fill="#000"/>
<text x="277.30" y="333.36" font-size="10.05" text-anchor="end" font-weight="normal" fill="#111" >Saul Sen Mayo</text>
<line x1="284.8" y1="330.46" x2="292" y2="330.46" stroke="#000" stroke-width="1.6"/>
<rect x="360.10" y="324.56" width="48.26" height="5.6" fill="#ff2c7a" stroke="#6a1f3c" stroke-width="0.6"/>
<rect x="360.10" y="330.16" width="43.75" height="6.1" fill="#000"/>
<text x="277.30" y="348.07" font-size="10.05" text-anchor="end" font-weight="normal" fill="#111" >Varela Zmpste24 targets UP</text>
<line x1="284.8" y1="345.17" x2="292" y2="345.17" stroke="#000" stroke-width="1.6"/>
<rect x="360.10" y="344.87" width="48.48" height="6.1" fill="#000"/>
<text x="277.30" y="362.78" font-size="10.05" text-anchor="end" font-weight="normal" fill="#111" >Demagalhaes aging UP</text>
<line x1="284.8" y1="359.88" x2="292" y2="359.88" stroke="#000" stroke-width="1.6"/>
<rect x="360.10" y="353.98" width="49.61" height="5.6" fill="#ff2c7a" stroke="#6a1f3c" stroke-width="0.6"/>
<rect x="360.10" y="359.58" width="51.19" height="6.1" fill="#000"/>
<line x1="292.3" y1="233.3" x2="292.3" y2="368.4" stroke="#000" stroke-width="1.6"/>
<line x1="360.1" y1="233.3" x2="360.1" y2="368.4" stroke="#000" stroke-width="1.6"/>
<line x1="291.5" y1="368.7" x2="428.4" y2="368.7" stroke="#000" stroke-width="1.7"/>
<line x1="292.45" y1="368.4" x2="292.45" y2="376.2" stroke="#000" stroke-width="1.5"/>
<text x="292.25" y="390.20" font-size="11.2" text-anchor="middle" font-weight="normal" fill="#000" >-3</text>
<line x1="315.00" y1="368.4" x2="315.00" y2="376.2" stroke="#000" stroke-width="1.5"/>
<text x="314.80" y="390.20" font-size="11.2" text-anchor="middle" font-weight="normal" fill="#000" >-2</text>
<line x1="337.55" y1="368.4" x2="337.55" y2="376.2" stroke="#000" stroke-width="1.5"/>
<text x="337.35" y="390.20" font-size="11.2" text-anchor="middle" font-weight="normal" fill="#000" >-1</text>
<line x1="360.10" y1="368.4" x2="360.10" y2="376.2" stroke="#000" stroke-width="1.5"/>
<text x="360.10" y="390.20" font-size="11.2" text-anchor="middle" font-weight="normal" fill="#000" >0</text>
<line x1="382.65" y1="368.4" x2="382.65" y2="376.2" stroke="#000" stroke-width="1.5"/>
<text x="382.65" y="390.20" font-size="11.2" text-anchor="middle" font-weight="normal" fill="#000" >1</text>
<line x1="405.20" y1="368.4" x2="405.20" y2="376.2" stroke="#000" stroke-width="1.5"/>
<text x="405.20" y="390.20" font-size="11.2" text-anchor="middle" font-weight="normal" fill="#000" >2</text>
<line x1="427.75" y1="368.4" x2="427.75" y2="376.2" stroke="#000" stroke-width="1.5"/>
<text x="427.75" y="390.20" font-size="11.2" text-anchor="middle" font-weight="normal" fill="#000" >3</text>
<rect x="377.2" y="233.9" width="19.7" height="10.9" fill="#000"/>
<rect x="377.5" y="251.9" width="19.1" height="10.3" fill="#ff2c7a" stroke="#6a1f3c" stroke-width="0.6"/>
<text x="407.60" y="244.50" font-size="14.2" text-anchor="start" font-weight="normal" fill="#000" >C vs D</text>
<text x="407.60" y="261.60" font-size="14.2" text-anchor="start" font-weight="normal" fill="#000" >C vs E</text>
<line x1="299" y1="404.3" x2="360.6" y2="404.3" stroke="#000" stroke-width="1.3"/>
<polygon points="289.7,404.3 301.5,397.8 301.5,410.8" fill="#000"/>
<line x1="362.5" y1="404.3" x2="424" y2="404.3" stroke="#000" stroke-width="1.3"/>
<polygon points="432.9,404.3 421.5,397.8 421.5,410.8" fill="#000"/>
<text x="274.40" y="426.10" font-size="14.6" text-anchor="start" font-weight="normal" fill="#000" >“D” or “E”</text>
<text x="417.20" y="426.10" font-size="14.6" text-anchor="start" font-weight="normal" fill="#000" >“C”</text>
<text x="-0.60" y="451.90" font-size="20" text-anchor="start" font-weight="normal" fill="#000" >c</text>
<text x="282.70" y="468.20" font-size="12.63" text-anchor="end" font-weight="normal" fill="#111" >senescence-associated heterochromatin foci</text>
<line x1="286.2" y1="463.80" x2="292.6" y2="463.80" stroke="#000" stroke-width="1.3"/>
<rect x="292.6" y="457.00" width="90.80" height="16.9" fill="#000"/>
<text x="282.70" y="489.00" font-size="12.63" text-anchor="end" font-weight="normal" fill="#111" >oncogene-induced senescence</text>
<line x1="286.2" y1="484.60" x2="292.6" y2="484.60" stroke="#000" stroke-width="1.3"/>
<rect x="292.6" y="477.80" width="96.90" height="16.9" fill="#000"/>
<text x="282.70" y="509.60" font-size="12.63" text-anchor="end" font-weight="normal" fill="#111" >senescence-associated secretory phenotype</text>
<line x1="286.2" y1="505.20" x2="292.6" y2="505.20" stroke="#000" stroke-width="1.3"/>
<rect x="292.6" y="498.40" width="102.20" height="16.9" fill="#000"/>
<text x="282.70" y="529.60" font-size="12.63" text-anchor="end" font-weight="normal" fill="#111" >DNA damage telomere stress induced senescence</text>
<line x1="286.2" y1="525.20" x2="292.6" y2="525.20" stroke="#000" stroke-width="1.3"/>
<rect x="292.6" y="518.40" width="105.50" height="16.9" fill="#000"/>
<text x="282.70" y="550.20" font-size="12.63" text-anchor="end" font-weight="normal" fill="#111" >oxidative-stress induced senescence</text>
<line x1="286.2" y1="545.80" x2="292.6" y2="545.80" stroke="#000" stroke-width="1.3"/>
<rect x="292.6" y="539.00" width="108.10" height="16.9" fill="#000"/>
<text x="282.70" y="570.70" font-size="12.63" text-anchor="end" font-weight="normal" fill="#111" >cellular senescence</text>
<line x1="286.2" y1="566.30" x2="292.6" y2="566.30" stroke="#000" stroke-width="1.3"/>
<rect x="292.6" y="559.50" width="115.20" height="16.9" fill="#000"/>
<line x1="292.6" y1="446.9" x2="292.6" y2="583.6" stroke="#000" stroke-width="1.5"/>
<line x1="291.9" y1="583.3" x2="430.4" y2="583.3" stroke="#000" stroke-width="1.3"/>
<line x1="292.50" y1="583.3" x2="292.50" y2="590.80" stroke="#000" stroke-width="1.3"/>
<line x1="319.95" y1="583.3" x2="319.95" y2="588.30" stroke="#000" stroke-width="1.3"/>
<line x1="347.40" y1="583.3" x2="347.40" y2="590.80" stroke="#000" stroke-width="1.3"/>
<line x1="374.85" y1="583.3" x2="374.85" y2="588.30" stroke="#000" stroke-width="1.3"/>
<line x1="402.30" y1="583.3" x2="402.30" y2="590.80" stroke="#000" stroke-width="1.3"/>
<line x1="429.75" y1="583.3" x2="429.75" y2="590.80" stroke="#000" stroke-width="1.3"/>
<text x="292.50" y="606.60" font-size="14.2" text-anchor="middle" font-weight="normal" fill="#000" >0</text>
<text x="347.40" y="606.60" font-size="14.2" text-anchor="middle" font-weight="normal" fill="#000" >1</text>
<text x="402.30" y="606.60" font-size="14.2" text-anchor="middle" font-weight="normal" fill="#000" >2</text>
<text x="424.20" y="606.60" font-size="14.2" text-anchor="start" font-weight="normal" fill="#000" >(NES)</text>
<line x1="288.3" y1="616.6" x2="427" y2="616.6" stroke="#000" stroke-width="1.3"/>
<polygon points="436.7,616.6 425.6,612.1 425.6,621.1" fill="#000"/>
<text x="283.30" y="633.20" font-size="14.8" text-anchor="start" font-weight="normal" fill="#000" >enriched in SP 24wpi</text>
</svg>
</body></html>
